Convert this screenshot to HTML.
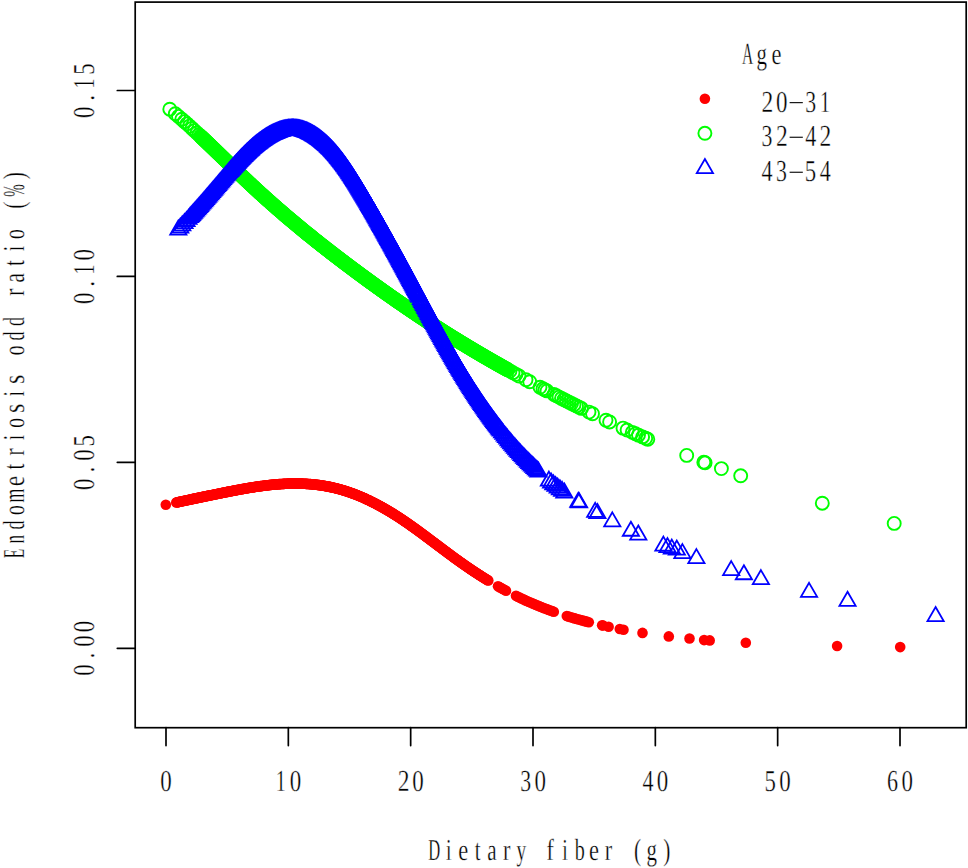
<!DOCTYPE html>
<html><head><meta charset="utf-8"><style>
html,body{margin:0;padding:0;background:#fff;}
svg{display:block;}
text{font-family:"Liberation Serif",serif;text-rendering:geometricPrecision;}
</style></head><body>
<svg width="968" height="868" viewBox="0 0 968 868">
<rect width="968" height="868" fill="#fff"/>
<g fill="#ff0000"><circle cx="165.80" cy="504.69" r="5.3"/><circle cx="176.30" cy="502.46" r="5.3"/><circle cx="176.90" cy="502.34" r="5.3"/><circle cx="177.50" cy="502.21" r="5.3"/><circle cx="178.10" cy="502.08" r="5.3"/><circle cx="178.70" cy="501.96" r="5.3"/><circle cx="179.30" cy="501.83" r="5.3"/><circle cx="179.90" cy="501.70" r="5.3"/><circle cx="180.50" cy="501.57" r="5.3"/><circle cx="181.10" cy="501.45" r="5.3"/><circle cx="181.70" cy="501.32" r="5.3"/><circle cx="182.30" cy="501.19" r="5.3"/><circle cx="182.90" cy="501.07" r="5.3"/><circle cx="183.50" cy="500.94" r="5.3"/><circle cx="184.10" cy="500.81" r="5.3"/><circle cx="184.70" cy="500.69" r="5.3"/><circle cx="185.30" cy="500.56" r="5.3"/><circle cx="185.90" cy="500.43" r="5.3"/><circle cx="186.50" cy="500.31" r="5.3"/><circle cx="187.10" cy="500.18" r="5.3"/><circle cx="187.70" cy="500.05" r="5.3"/><circle cx="188.30" cy="499.93" r="5.3"/><circle cx="188.90" cy="499.80" r="5.3"/><circle cx="189.50" cy="499.68" r="5.3"/><circle cx="190.10" cy="499.55" r="5.3"/><circle cx="190.70" cy="499.42" r="5.3"/><circle cx="191.30" cy="499.30" r="5.3"/><circle cx="191.90" cy="499.17" r="5.3"/><circle cx="192.50" cy="499.04" r="5.3"/><circle cx="193.10" cy="498.92" r="5.3"/><circle cx="193.70" cy="498.79" r="5.3"/><circle cx="194.30" cy="498.67" r="5.3"/><circle cx="194.90" cy="498.54" r="5.3"/><circle cx="195.50" cy="498.42" r="5.3"/><circle cx="196.10" cy="498.29" r="5.3"/><circle cx="196.70" cy="498.16" r="5.3"/><circle cx="197.30" cy="498.04" r="5.3"/><circle cx="197.90" cy="497.91" r="5.3"/><circle cx="198.50" cy="497.79" r="5.3"/><circle cx="199.10" cy="497.66" r="5.3"/><circle cx="199.70" cy="497.54" r="5.3"/><circle cx="200.30" cy="497.41" r="5.3"/><circle cx="200.90" cy="497.29" r="5.3"/><circle cx="201.50" cy="497.16" r="5.3"/><circle cx="202.10" cy="497.04" r="5.3"/><circle cx="202.70" cy="496.91" r="5.3"/><circle cx="203.30" cy="496.79" r="5.3"/><circle cx="203.90" cy="496.66" r="5.3"/><circle cx="204.50" cy="496.54" r="5.3"/><circle cx="205.10" cy="496.42" r="5.3"/><circle cx="205.70" cy="496.29" r="5.3"/><circle cx="206.30" cy="496.17" r="5.3"/><circle cx="206.90" cy="496.04" r="5.3"/><circle cx="207.50" cy="495.92" r="5.3"/><circle cx="208.10" cy="495.79" r="5.3"/><circle cx="208.70" cy="495.67" r="5.3"/><circle cx="209.30" cy="495.55" r="5.3"/><circle cx="209.90" cy="495.42" r="5.3"/><circle cx="210.50" cy="495.30" r="5.3"/><circle cx="211.10" cy="495.18" r="5.3"/><circle cx="211.70" cy="495.05" r="5.3"/><circle cx="212.30" cy="494.93" r="5.3"/><circle cx="212.90" cy="494.81" r="5.3"/><circle cx="213.50" cy="494.68" r="5.3"/><circle cx="214.10" cy="494.56" r="5.3"/><circle cx="214.70" cy="494.44" r="5.3"/><circle cx="215.30" cy="494.32" r="5.3"/><circle cx="215.90" cy="494.19" r="5.3"/><circle cx="216.50" cy="494.07" r="5.3"/><circle cx="217.10" cy="493.95" r="5.3"/><circle cx="217.70" cy="493.83" r="5.3"/><circle cx="218.30" cy="493.70" r="5.3"/><circle cx="218.90" cy="493.58" r="5.3"/><circle cx="219.50" cy="493.46" r="5.3"/><circle cx="220.10" cy="493.34" r="5.3"/><circle cx="220.70" cy="493.22" r="5.3"/><circle cx="221.30" cy="493.10" r="5.3"/><circle cx="221.90" cy="492.98" r="5.3"/><circle cx="222.50" cy="492.85" r="5.3"/><circle cx="223.10" cy="492.73" r="5.3"/><circle cx="223.70" cy="492.61" r="5.3"/><circle cx="224.30" cy="492.49" r="5.3"/><circle cx="224.90" cy="492.37" r="5.3"/><circle cx="225.50" cy="492.25" r="5.3"/><circle cx="226.10" cy="492.13" r="5.3"/><circle cx="226.70" cy="492.01" r="5.3"/><circle cx="227.30" cy="491.90" r="5.3"/><circle cx="227.90" cy="491.78" r="5.3"/><circle cx="228.50" cy="491.66" r="5.3"/><circle cx="229.10" cy="491.54" r="5.3"/><circle cx="229.70" cy="491.42" r="5.3"/><circle cx="230.30" cy="491.30" r="5.3"/><circle cx="230.90" cy="491.19" r="5.3"/><circle cx="231.50" cy="491.07" r="5.3"/><circle cx="232.10" cy="490.95" r="5.3"/><circle cx="232.70" cy="490.84" r="5.3"/><circle cx="233.30" cy="490.72" r="5.3"/><circle cx="233.90" cy="490.61" r="5.3"/><circle cx="234.50" cy="490.49" r="5.3"/><circle cx="235.10" cy="490.38" r="5.3"/><circle cx="235.70" cy="490.27" r="5.3"/><circle cx="236.30" cy="490.15" r="5.3"/><circle cx="236.90" cy="490.04" r="5.3"/><circle cx="237.50" cy="489.93" r="5.3"/><circle cx="238.10" cy="489.82" r="5.3"/><circle cx="238.70" cy="489.70" r="5.3"/><circle cx="239.30" cy="489.59" r="5.3"/><circle cx="239.90" cy="489.48" r="5.3"/><circle cx="240.50" cy="489.37" r="5.3"/><circle cx="241.10" cy="489.26" r="5.3"/><circle cx="241.70" cy="489.16" r="5.3"/><circle cx="242.30" cy="489.05" r="5.3"/><circle cx="242.90" cy="488.94" r="5.3"/><circle cx="243.50" cy="488.84" r="5.3"/><circle cx="244.10" cy="488.73" r="5.3"/><circle cx="244.70" cy="488.62" r="5.3"/><circle cx="245.30" cy="488.52" r="5.3"/><circle cx="245.90" cy="488.42" r="5.3"/><circle cx="246.50" cy="488.31" r="5.3"/><circle cx="247.10" cy="488.21" r="5.3"/><circle cx="247.70" cy="488.11" r="5.3"/><circle cx="248.30" cy="488.01" r="5.3"/><circle cx="248.90" cy="487.91" r="5.3"/><circle cx="249.50" cy="487.81" r="5.3"/><circle cx="250.10" cy="487.71" r="5.3"/><circle cx="250.70" cy="487.61" r="5.3"/><circle cx="251.30" cy="487.52" r="5.3"/><circle cx="251.90" cy="487.42" r="5.3"/><circle cx="252.50" cy="487.32" r="5.3"/><circle cx="253.10" cy="487.23" r="5.3"/><circle cx="253.70" cy="487.14" r="5.3"/><circle cx="254.30" cy="487.04" r="5.3"/><circle cx="254.90" cy="486.95" r="5.3"/><circle cx="255.50" cy="486.86" r="5.3"/><circle cx="256.10" cy="486.77" r="5.3"/><circle cx="256.70" cy="486.68" r="5.3"/><circle cx="257.30" cy="486.59" r="5.3"/><circle cx="257.90" cy="486.51" r="5.3"/><circle cx="258.50" cy="486.42" r="5.3"/><circle cx="259.10" cy="486.34" r="5.3"/><circle cx="259.70" cy="486.25" r="5.3"/><circle cx="260.30" cy="486.17" r="5.3"/><circle cx="260.90" cy="486.09" r="5.3"/><circle cx="261.50" cy="486.01" r="5.3"/><circle cx="262.10" cy="485.93" r="5.3"/><circle cx="262.70" cy="485.85" r="5.3"/><circle cx="263.30" cy="485.77" r="5.3"/><circle cx="263.90" cy="485.69" r="5.3"/><circle cx="264.50" cy="485.62" r="5.3"/><circle cx="265.10" cy="485.54" r="5.3"/><circle cx="265.70" cy="485.47" r="5.3"/><circle cx="266.30" cy="485.40" r="5.3"/><circle cx="266.90" cy="485.33" r="5.3"/><circle cx="267.50" cy="485.26" r="5.3"/><circle cx="268.10" cy="485.19" r="5.3"/><circle cx="268.70" cy="485.12" r="5.3"/><circle cx="269.30" cy="485.05" r="5.3"/><circle cx="269.90" cy="484.99" r="5.3"/><circle cx="270.50" cy="484.92" r="5.3"/><circle cx="271.10" cy="484.86" r="5.3"/><circle cx="271.70" cy="484.80" r="5.3"/><circle cx="272.30" cy="484.74" r="5.3"/><circle cx="272.90" cy="484.68" r="5.3"/><circle cx="273.50" cy="484.62" r="5.3"/><circle cx="274.10" cy="484.57" r="5.3"/><circle cx="274.70" cy="484.51" r="5.3"/><circle cx="275.30" cy="484.46" r="5.3"/><circle cx="275.90" cy="484.41" r="5.3"/><circle cx="276.50" cy="484.36" r="5.3"/><circle cx="277.10" cy="484.31" r="5.3"/><circle cx="277.70" cy="484.26" r="5.3"/><circle cx="278.30" cy="484.21" r="5.3"/><circle cx="278.90" cy="484.17" r="5.3"/><circle cx="279.50" cy="484.12" r="5.3"/><circle cx="280.10" cy="484.08" r="5.3"/><circle cx="280.70" cy="484.04" r="5.3"/><circle cx="281.30" cy="484.00" r="5.3"/><circle cx="281.90" cy="483.96" r="5.3"/><circle cx="282.50" cy="483.93" r="5.3"/><circle cx="283.10" cy="483.89" r="5.3"/><circle cx="283.70" cy="483.86" r="5.3"/><circle cx="284.30" cy="483.83" r="5.3"/><circle cx="284.90" cy="483.80" r="5.3"/><circle cx="285.50" cy="483.77" r="5.3"/><circle cx="286.10" cy="483.74" r="5.3"/><circle cx="286.70" cy="483.72" r="5.3"/><circle cx="287.30" cy="483.69" r="5.3"/><circle cx="287.90" cy="483.67" r="5.3"/><circle cx="288.50" cy="483.65" r="5.3"/><circle cx="289.10" cy="483.63" r="5.3"/><circle cx="289.70" cy="483.62" r="5.3"/><circle cx="290.30" cy="483.60" r="5.3"/><circle cx="290.90" cy="483.59" r="5.3"/><circle cx="291.50" cy="483.57" r="5.3"/><circle cx="292.10" cy="483.56" r="5.3"/><circle cx="292.70" cy="483.56" r="5.3"/><circle cx="293.30" cy="483.55" r="5.3"/><circle cx="293.90" cy="483.54" r="5.3"/><circle cx="294.50" cy="483.54" r="5.3"/><circle cx="295.10" cy="483.54" r="5.3"/><circle cx="295.70" cy="483.54" r="5.3"/><circle cx="296.30" cy="483.54" r="5.3"/><circle cx="296.90" cy="483.54" r="5.3"/><circle cx="297.50" cy="483.55" r="5.3"/><circle cx="298.10" cy="483.56" r="5.3"/><circle cx="298.70" cy="483.57" r="5.3"/><circle cx="299.30" cy="483.58" r="5.3"/><circle cx="299.90" cy="483.59" r="5.3"/><circle cx="300.50" cy="483.61" r="5.3"/><circle cx="301.10" cy="483.62" r="5.3"/><circle cx="301.70" cy="483.64" r="5.3"/><circle cx="302.30" cy="483.66" r="5.3"/><circle cx="302.90" cy="483.68" r="5.3"/><circle cx="303.50" cy="483.71" r="5.3"/><circle cx="304.10" cy="483.74" r="5.3"/><circle cx="304.70" cy="483.76" r="5.3"/><circle cx="305.30" cy="483.79" r="5.3"/><circle cx="305.90" cy="483.83" r="5.3"/><circle cx="306.50" cy="483.86" r="5.3"/><circle cx="307.10" cy="483.90" r="5.3"/><circle cx="307.70" cy="483.94" r="5.3"/><circle cx="308.30" cy="483.98" r="5.3"/><circle cx="308.90" cy="484.02" r="5.3"/><circle cx="309.50" cy="484.06" r="5.3"/><circle cx="310.10" cy="484.11" r="5.3"/><circle cx="310.70" cy="484.16" r="5.3"/><circle cx="311.30" cy="484.21" r="5.3"/><circle cx="311.90" cy="484.26" r="5.3"/><circle cx="312.50" cy="484.32" r="5.3"/><circle cx="313.10" cy="484.38" r="5.3"/><circle cx="313.70" cy="484.43" r="5.3"/><circle cx="314.30" cy="484.50" r="5.3"/><circle cx="314.90" cy="484.56" r="5.3"/><circle cx="315.50" cy="484.63" r="5.3"/><circle cx="316.10" cy="484.69" r="5.3"/><circle cx="316.70" cy="484.76" r="5.3"/><circle cx="317.30" cy="484.84" r="5.3"/><circle cx="317.90" cy="484.91" r="5.3"/><circle cx="318.50" cy="484.99" r="5.3"/><circle cx="319.10" cy="485.07" r="5.3"/><circle cx="319.70" cy="485.15" r="5.3"/><circle cx="320.30" cy="485.23" r="5.3"/><circle cx="320.90" cy="485.32" r="5.3"/><circle cx="321.50" cy="485.41" r="5.3"/><circle cx="322.10" cy="485.50" r="5.3"/><circle cx="322.70" cy="485.59" r="5.3"/><circle cx="323.30" cy="485.69" r="5.3"/><circle cx="323.90" cy="485.78" r="5.3"/><circle cx="324.50" cy="485.88" r="5.3"/><circle cx="325.10" cy="485.99" r="5.3"/><circle cx="325.70" cy="486.09" r="5.3"/><circle cx="326.30" cy="486.20" r="5.3"/><circle cx="326.90" cy="486.31" r="5.3"/><circle cx="327.50" cy="486.42" r="5.3"/><circle cx="328.10" cy="486.54" r="5.3"/><circle cx="328.70" cy="486.65" r="5.3"/><circle cx="329.30" cy="486.77" r="5.3"/><circle cx="329.90" cy="486.89" r="5.3"/><circle cx="330.50" cy="487.02" r="5.3"/><circle cx="331.10" cy="487.14" r="5.3"/><circle cx="331.70" cy="487.27" r="5.3"/><circle cx="332.30" cy="487.41" r="5.3"/><circle cx="332.90" cy="487.54" r="5.3"/><circle cx="333.50" cy="487.68" r="5.3"/><circle cx="334.10" cy="487.82" r="5.3"/><circle cx="334.70" cy="487.96" r="5.3"/><circle cx="335.30" cy="488.10" r="5.3"/><circle cx="335.90" cy="488.25" r="5.3"/><circle cx="336.50" cy="488.40" r="5.3"/><circle cx="337.10" cy="488.55" r="5.3"/><circle cx="337.70" cy="488.71" r="5.3"/><circle cx="338.30" cy="488.87" r="5.3"/><circle cx="338.90" cy="489.03" r="5.3"/><circle cx="339.50" cy="489.19" r="5.3"/><circle cx="340.10" cy="489.36" r="5.3"/><circle cx="340.70" cy="489.52" r="5.3"/><circle cx="341.30" cy="489.70" r="5.3"/><circle cx="341.90" cy="489.87" r="5.3"/><circle cx="342.50" cy="490.05" r="5.3"/><circle cx="343.10" cy="490.22" r="5.3"/><circle cx="343.70" cy="490.41" r="5.3"/><circle cx="344.30" cy="490.59" r="5.3"/><circle cx="344.90" cy="490.78" r="5.3"/><circle cx="345.50" cy="490.97" r="5.3"/><circle cx="346.10" cy="491.16" r="5.3"/><circle cx="346.70" cy="491.35" r="5.3"/><circle cx="347.30" cy="491.55" r="5.3"/><circle cx="347.90" cy="491.75" r="5.3"/><circle cx="348.50" cy="491.95" r="5.3"/><circle cx="349.10" cy="492.16" r="5.3"/><circle cx="349.70" cy="492.37" r="5.3"/><circle cx="350.30" cy="492.58" r="5.3"/><circle cx="350.90" cy="492.79" r="5.3"/><circle cx="351.50" cy="493.01" r="5.3"/><circle cx="352.10" cy="493.22" r="5.3"/><circle cx="352.70" cy="493.44" r="5.3"/><circle cx="353.30" cy="493.67" r="5.3"/><circle cx="353.90" cy="493.89" r="5.3"/><circle cx="354.50" cy="494.12" r="5.3"/><circle cx="355.10" cy="494.35" r="5.3"/><circle cx="355.70" cy="494.58" r="5.3"/><circle cx="356.30" cy="494.82" r="5.3"/><circle cx="356.90" cy="495.06" r="5.3"/><circle cx="357.50" cy="495.30" r="5.3"/><circle cx="358.10" cy="495.54" r="5.3"/><circle cx="358.70" cy="495.79" r="5.3"/><circle cx="359.30" cy="496.03" r="5.3"/><circle cx="359.90" cy="496.28" r="5.3"/><circle cx="360.50" cy="496.54" r="5.3"/><circle cx="361.10" cy="496.79" r="5.3"/><circle cx="361.70" cy="497.05" r="5.3"/><circle cx="362.30" cy="497.31" r="5.3"/><circle cx="362.90" cy="497.57" r="5.3"/><circle cx="363.50" cy="497.84" r="5.3"/><circle cx="364.10" cy="498.10" r="5.3"/><circle cx="364.70" cy="498.37" r="5.3"/><circle cx="365.30" cy="498.64" r="5.3"/><circle cx="365.90" cy="498.92" r="5.3"/><circle cx="366.50" cy="499.19" r="5.3"/><circle cx="367.10" cy="499.47" r="5.3"/><circle cx="367.70" cy="499.75" r="5.3"/><circle cx="368.30" cy="500.04" r="5.3"/><circle cx="368.90" cy="500.32" r="5.3"/><circle cx="369.50" cy="500.61" r="5.3"/><circle cx="370.10" cy="500.90" r="5.3"/><circle cx="370.70" cy="501.19" r="5.3"/><circle cx="371.30" cy="501.49" r="5.3"/><circle cx="371.90" cy="501.78" r="5.3"/><circle cx="372.50" cy="502.08" r="5.3"/><circle cx="373.10" cy="502.39" r="5.3"/><circle cx="373.70" cy="502.69" r="5.3"/><circle cx="374.30" cy="502.99" r="5.3"/><circle cx="374.90" cy="503.30" r="5.3"/><circle cx="375.50" cy="503.61" r="5.3"/><circle cx="376.10" cy="503.93" r="5.3"/><circle cx="376.70" cy="504.24" r="5.3"/><circle cx="377.30" cy="504.56" r="5.3"/><circle cx="377.90" cy="504.88" r="5.3"/><circle cx="378.50" cy="505.20" r="5.3"/><circle cx="379.10" cy="505.52" r="5.3"/><circle cx="379.70" cy="505.85" r="5.3"/><circle cx="380.30" cy="506.18" r="5.3"/><circle cx="380.90" cy="506.51" r="5.3"/><circle cx="381.50" cy="506.84" r="5.3"/><circle cx="382.10" cy="507.17" r="5.3"/><circle cx="382.70" cy="507.51" r="5.3"/><circle cx="383.30" cy="507.85" r="5.3"/><circle cx="383.90" cy="508.19" r="5.3"/><circle cx="384.50" cy="508.53" r="5.3"/><circle cx="385.10" cy="508.88" r="5.3"/><circle cx="385.70" cy="509.22" r="5.3"/><circle cx="386.30" cy="509.57" r="5.3"/><circle cx="386.90" cy="509.92" r="5.3"/><circle cx="387.50" cy="510.28" r="5.3"/><circle cx="388.10" cy="510.63" r="5.3"/><circle cx="388.70" cy="510.99" r="5.3"/><circle cx="389.30" cy="511.35" r="5.3"/><circle cx="389.90" cy="511.71" r="5.3"/><circle cx="390.50" cy="512.07" r="5.3"/><circle cx="391.10" cy="512.44" r="5.3"/><circle cx="391.70" cy="512.81" r="5.3"/><circle cx="392.30" cy="513.18" r="5.3"/><circle cx="392.90" cy="513.55" r="5.3"/><circle cx="393.50" cy="513.92" r="5.3"/><circle cx="394.10" cy="514.30" r="5.3"/><circle cx="394.70" cy="514.67" r="5.3"/><circle cx="395.30" cy="515.05" r="5.3"/><circle cx="395.90" cy="515.43" r="5.3"/><circle cx="396.50" cy="515.82" r="5.3"/><circle cx="397.10" cy="516.20" r="5.3"/><circle cx="397.70" cy="516.59" r="5.3"/><circle cx="398.30" cy="516.98" r="5.3"/><circle cx="398.90" cy="517.37" r="5.3"/><circle cx="399.50" cy="517.76" r="5.3"/><circle cx="400.10" cy="518.16" r="5.3"/><circle cx="400.70" cy="518.55" r="5.3"/><circle cx="401.30" cy="518.95" r="5.3"/><circle cx="401.90" cy="519.35" r="5.3"/><circle cx="402.50" cy="519.75" r="5.3"/><circle cx="403.10" cy="520.16" r="5.3"/><circle cx="403.70" cy="520.56" r="5.3"/><circle cx="404.30" cy="520.97" r="5.3"/><circle cx="404.90" cy="521.38" r="5.3"/><circle cx="405.50" cy="521.79" r="5.3"/><circle cx="406.10" cy="522.20" r="5.3"/><circle cx="406.70" cy="522.62" r="5.3"/><circle cx="407.30" cy="523.03" r="5.3"/><circle cx="407.90" cy="523.45" r="5.3"/><circle cx="408.50" cy="523.87" r="5.3"/><circle cx="409.10" cy="524.28" r="5.3"/><circle cx="409.70" cy="524.71" r="5.3"/><circle cx="410.30" cy="525.13" r="5.3"/><circle cx="410.90" cy="525.55" r="5.3"/><circle cx="411.50" cy="525.98" r="5.3"/><circle cx="412.10" cy="526.40" r="5.3"/><circle cx="412.70" cy="526.83" r="5.3"/><circle cx="413.30" cy="527.26" r="5.3"/><circle cx="413.90" cy="527.69" r="5.3"/><circle cx="414.50" cy="528.12" r="5.3"/><circle cx="415.10" cy="528.55" r="5.3"/><circle cx="415.70" cy="528.99" r="5.3"/><circle cx="416.30" cy="529.42" r="5.3"/><circle cx="416.90" cy="529.86" r="5.3"/><circle cx="417.50" cy="530.29" r="5.3"/><circle cx="418.10" cy="530.73" r="5.3"/><circle cx="418.70" cy="531.17" r="5.3"/><circle cx="419.30" cy="531.61" r="5.3"/><circle cx="419.90" cy="532.05" r="5.3"/><circle cx="420.50" cy="532.49" r="5.3"/><circle cx="421.10" cy="532.93" r="5.3"/><circle cx="421.70" cy="533.37" r="5.3"/><circle cx="422.30" cy="533.82" r="5.3"/><circle cx="422.90" cy="534.26" r="5.3"/><circle cx="423.50" cy="534.71" r="5.3"/><circle cx="424.10" cy="535.15" r="5.3"/><circle cx="424.70" cy="535.60" r="5.3"/><circle cx="425.30" cy="536.04" r="5.3"/><circle cx="425.90" cy="536.49" r="5.3"/><circle cx="426.50" cy="536.94" r="5.3"/><circle cx="427.10" cy="537.39" r="5.3"/><circle cx="427.70" cy="537.84" r="5.3"/><circle cx="428.30" cy="538.28" r="5.3"/><circle cx="428.90" cy="538.73" r="5.3"/><circle cx="429.50" cy="539.18" r="5.3"/><circle cx="430.10" cy="539.63" r="5.3"/><circle cx="430.70" cy="540.09" r="5.3"/><circle cx="431.30" cy="540.54" r="5.3"/><circle cx="431.90" cy="540.99" r="5.3"/><circle cx="432.50" cy="541.44" r="5.3"/><circle cx="433.10" cy="541.89" r="5.3"/><circle cx="433.70" cy="542.34" r="5.3"/><circle cx="434.30" cy="542.79" r="5.3"/><circle cx="434.90" cy="543.25" r="5.3"/><circle cx="435.50" cy="543.70" r="5.3"/><circle cx="436.10" cy="544.15" r="5.3"/><circle cx="436.70" cy="544.60" r="5.3"/><circle cx="437.30" cy="545.05" r="5.3"/><circle cx="437.90" cy="545.51" r="5.3"/><circle cx="438.50" cy="545.96" r="5.3"/><circle cx="439.10" cy="546.41" r="5.3"/><circle cx="439.70" cy="546.86" r="5.3"/><circle cx="440.30" cy="547.31" r="5.3"/><circle cx="440.90" cy="547.76" r="5.3"/><circle cx="441.50" cy="548.21" r="5.3"/><circle cx="442.10" cy="548.67" r="5.3"/><circle cx="442.70" cy="549.12" r="5.3"/><circle cx="443.30" cy="549.57" r="5.3"/><circle cx="443.90" cy="550.01" r="5.3"/><circle cx="444.50" cy="550.46" r="5.3"/><circle cx="445.10" cy="550.91" r="5.3"/><circle cx="445.70" cy="551.36" r="5.3"/><circle cx="446.30" cy="551.81" r="5.3"/><circle cx="446.90" cy="552.26" r="5.3"/><circle cx="447.50" cy="552.70" r="5.3"/><circle cx="448.10" cy="553.15" r="5.3"/><circle cx="448.70" cy="553.59" r="5.3"/><circle cx="449.30" cy="554.04" r="5.3"/><circle cx="449.90" cy="554.48" r="5.3"/><circle cx="450.50" cy="554.93" r="5.3"/><circle cx="451.10" cy="555.37" r="5.3"/><circle cx="451.70" cy="555.81" r="5.3"/><circle cx="452.30" cy="556.25" r="5.3"/><circle cx="452.90" cy="556.69" r="5.3"/><circle cx="453.50" cy="557.13" r="5.3"/><circle cx="454.10" cy="557.57" r="5.3"/><circle cx="454.70" cy="558.01" r="5.3"/><circle cx="455.30" cy="558.44" r="5.3"/><circle cx="455.90" cy="558.88" r="5.3"/><circle cx="456.50" cy="559.31" r="5.3"/><circle cx="457.10" cy="559.75" r="5.3"/><circle cx="457.70" cy="560.18" r="5.3"/><circle cx="458.30" cy="560.61" r="5.3"/><circle cx="458.90" cy="561.04" r="5.3"/><circle cx="459.50" cy="561.47" r="5.3"/><circle cx="460.10" cy="561.90" r="5.3"/><circle cx="460.70" cy="562.32" r="5.3"/><circle cx="461.30" cy="562.75" r="5.3"/><circle cx="461.90" cy="563.17" r="5.3"/><circle cx="462.50" cy="563.59" r="5.3"/><circle cx="463.10" cy="564.02" r="5.3"/><circle cx="463.70" cy="564.44" r="5.3"/><circle cx="464.30" cy="564.85" r="5.3"/><circle cx="464.90" cy="565.27" r="5.3"/><circle cx="465.50" cy="565.69" r="5.3"/><circle cx="466.10" cy="566.10" r="5.3"/><circle cx="466.70" cy="566.52" r="5.3"/><circle cx="467.30" cy="566.93" r="5.3"/><circle cx="467.90" cy="567.34" r="5.3"/><circle cx="468.50" cy="567.75" r="5.3"/><circle cx="469.10" cy="568.16" r="5.3"/><circle cx="469.70" cy="568.57" r="5.3"/><circle cx="470.30" cy="568.97" r="5.3"/><circle cx="470.90" cy="569.38" r="5.3"/><circle cx="471.50" cy="569.78" r="5.3"/><circle cx="472.10" cy="570.18" r="5.3"/><circle cx="472.70" cy="570.58" r="5.3"/><circle cx="473.30" cy="570.98" r="5.3"/><circle cx="473.90" cy="571.38" r="5.3"/><circle cx="474.50" cy="571.78" r="5.3"/><circle cx="475.10" cy="572.17" r="5.3"/><circle cx="475.70" cy="572.57" r="5.3"/><circle cx="476.30" cy="572.96" r="5.3"/><circle cx="476.90" cy="573.35" r="5.3"/><circle cx="477.50" cy="573.74" r="5.3"/><circle cx="478.10" cy="574.13" r="5.3"/><circle cx="478.70" cy="574.52" r="5.3"/><circle cx="479.30" cy="574.90" r="5.3"/><circle cx="479.90" cy="575.29" r="5.3"/><circle cx="480.50" cy="575.67" r="5.3"/><circle cx="481.10" cy="576.05" r="5.3"/><circle cx="481.70" cy="576.43" r="5.3"/><circle cx="482.30" cy="576.81" r="5.3"/><circle cx="482.90" cy="577.19" r="5.3"/><circle cx="483.50" cy="577.57" r="5.3"/><circle cx="484.10" cy="577.94" r="5.3"/><circle cx="484.70" cy="578.32" r="5.3"/><circle cx="485.30" cy="578.69" r="5.3"/><circle cx="485.90" cy="579.06" r="5.3"/><circle cx="486.50" cy="579.43" r="5.3"/><circle cx="487.10" cy="579.80" r="5.3"/><circle cx="487.70" cy="580.17" r="5.3"/><circle cx="488.30" cy="580.53" r="5.3"/><circle cx="498.00" cy="586.25" r="5.3"/><circle cx="499.60" cy="587.16" r="5.3"/><circle cx="501.20" cy="588.05" r="5.3"/><circle cx="502.80" cy="588.94" r="5.3"/><circle cx="504.40" cy="589.82" r="5.3"/><circle cx="506.00" cy="590.68" r="5.3"/><circle cx="516.00" cy="595.85" r="5.3"/><circle cx="517.80" cy="596.74" r="5.3"/><circle cx="519.60" cy="597.61" r="5.3"/><circle cx="521.40" cy="598.47" r="5.3"/><circle cx="523.20" cy="599.32" r="5.3"/><circle cx="525.00" cy="600.15" r="5.3"/><circle cx="526.80" cy="600.97" r="5.3"/><circle cx="528.60" cy="601.77" r="5.3"/><circle cx="530.40" cy="602.56" r="5.3"/><circle cx="532.20" cy="603.34" r="5.3"/><circle cx="534.00" cy="604.11" r="5.3"/><circle cx="535.80" cy="604.86" r="5.3"/><circle cx="537.60" cy="605.60" r="5.3"/><circle cx="539.40" cy="606.33" r="5.3"/><circle cx="541.20" cy="607.05" r="5.3"/><circle cx="543.00" cy="607.75" r="5.3"/><circle cx="544.80" cy="608.44" r="5.3"/><circle cx="546.60" cy="609.12" r="5.3"/><circle cx="548.40" cy="609.79" r="5.3"/><circle cx="550.20" cy="610.45" r="5.3"/><circle cx="552.00" cy="611.10" r="5.3"/><circle cx="553.80" cy="611.74" r="5.3"/><circle cx="566.80" cy="616.02" r="5.3"/><circle cx="568.80" cy="616.64" r="5.3"/><circle cx="570.80" cy="617.24" r="5.3"/><circle cx="572.80" cy="617.83" r="5.3"/><circle cx="574.80" cy="618.41" r="5.3"/><circle cx="576.80" cy="618.98" r="5.3"/><circle cx="578.80" cy="619.54" r="5.3"/><circle cx="580.80" cy="620.08" r="5.3"/><circle cx="582.80" cy="620.62" r="5.3"/><circle cx="584.80" cy="621.15" r="5.3"/><circle cx="586.80" cy="621.67" r="5.3"/><circle cx="588.80" cy="622.18" r="5.3"/><circle cx="602.10" cy="625.33" r="5.3"/><circle cx="603.10" cy="625.55" r="5.3"/><circle cx="608.60" cy="626.74" r="5.3"/><circle cx="619.80" cy="628.98" r="5.3"/><circle cx="623.50" cy="629.68" r="5.3"/><circle cx="642.50" cy="632.90" r="5.3"/><circle cx="668.80" cy="636.40" r="5.3"/><circle cx="689.50" cy="638.50" r="5.3"/><circle cx="704.10" cy="640.10" r="5.3"/><circle cx="709.70" cy="640.40" r="5.3"/><circle cx="745.80" cy="642.70" r="5.3"/><circle cx="837.10" cy="646.00" r="5.3"/><circle cx="900.20" cy="647.10" r="5.3"/></g>
<g fill="none" stroke="#00ff00" stroke-width="1.9"><circle cx="169.80" cy="109.19" r="6.5"/><circle cx="175.30" cy="113.71" r="6.5"/><circle cx="178.50" cy="116.42" r="6.5"/><circle cx="181.80" cy="119.26" r="6.5"/><circle cx="184.50" cy="121.63" r="6.5"/><circle cx="187.00" cy="123.85" r="6.5"/><circle cx="189.50" cy="126.09" r="6.5"/><circle cx="192.00" cy="128.36" r="6.5"/><circle cx="194.50" cy="130.65" r="6.5"/><circle cx="197.00" cy="132.96" r="6.5"/><circle cx="199.00" cy="134.83" r="6.5"/><circle cx="200.50" cy="136.23" r="6.5"/><circle cx="201.10" cy="136.79" r="6.5"/><circle cx="201.70" cy="137.36" r="6.5"/><circle cx="202.30" cy="137.92" r="6.5"/><circle cx="202.90" cy="138.49" r="6.5"/><circle cx="203.50" cy="139.05" r="6.5"/><circle cx="204.10" cy="139.62" r="6.5"/><circle cx="204.70" cy="140.19" r="6.5"/><circle cx="205.30" cy="140.76" r="6.5"/><circle cx="205.90" cy="141.33" r="6.5"/><circle cx="206.50" cy="141.90" r="6.5"/><circle cx="207.10" cy="142.47" r="6.5"/><circle cx="207.70" cy="143.05" r="6.5"/><circle cx="208.30" cy="143.62" r="6.5"/><circle cx="208.90" cy="144.19" r="6.5"/><circle cx="209.50" cy="144.77" r="6.5"/><circle cx="210.10" cy="145.34" r="6.5"/><circle cx="210.70" cy="145.92" r="6.5"/><circle cx="211.30" cy="146.49" r="6.5"/><circle cx="211.90" cy="147.07" r="6.5"/><circle cx="212.50" cy="147.65" r="6.5"/><circle cx="213.10" cy="148.22" r="6.5"/><circle cx="213.70" cy="148.80" r="6.5"/><circle cx="214.30" cy="149.38" r="6.5"/><circle cx="214.90" cy="149.96" r="6.5"/><circle cx="215.50" cy="150.54" r="6.5"/><circle cx="216.10" cy="151.12" r="6.5"/><circle cx="216.70" cy="151.70" r="6.5"/><circle cx="217.30" cy="152.28" r="6.5"/><circle cx="217.90" cy="152.86" r="6.5"/><circle cx="218.50" cy="153.44" r="6.5"/><circle cx="219.10" cy="154.02" r="6.5"/><circle cx="219.70" cy="154.60" r="6.5"/><circle cx="220.30" cy="155.18" r="6.5"/><circle cx="220.90" cy="155.76" r="6.5"/><circle cx="221.50" cy="156.35" r="6.5"/><circle cx="222.10" cy="156.93" r="6.5"/><circle cx="222.70" cy="157.51" r="6.5"/><circle cx="223.30" cy="158.09" r="6.5"/><circle cx="223.90" cy="158.68" r="6.5"/><circle cx="224.50" cy="159.26" r="6.5"/><circle cx="225.10" cy="159.84" r="6.5"/><circle cx="225.70" cy="160.42" r="6.5"/><circle cx="226.30" cy="161.01" r="6.5"/><circle cx="226.90" cy="161.59" r="6.5"/><circle cx="227.50" cy="162.17" r="6.5"/><circle cx="228.10" cy="162.75" r="6.5"/><circle cx="228.70" cy="163.33" r="6.5"/><circle cx="229.30" cy="163.92" r="6.5"/><circle cx="229.90" cy="164.50" r="6.5"/><circle cx="230.50" cy="165.08" r="6.5"/><circle cx="231.10" cy="165.66" r="6.5"/><circle cx="231.70" cy="166.24" r="6.5"/><circle cx="232.30" cy="166.82" r="6.5"/><circle cx="232.90" cy="167.40" r="6.5"/><circle cx="233.50" cy="167.99" r="6.5"/><circle cx="234.10" cy="168.57" r="6.5"/><circle cx="234.70" cy="169.15" r="6.5"/><circle cx="235.30" cy="169.72" r="6.5"/><circle cx="235.90" cy="170.30" r="6.5"/><circle cx="236.50" cy="170.88" r="6.5"/><circle cx="237.10" cy="171.46" r="6.5"/><circle cx="237.70" cy="172.04" r="6.5"/><circle cx="238.30" cy="172.62" r="6.5"/><circle cx="238.90" cy="173.19" r="6.5"/><circle cx="239.50" cy="173.77" r="6.5"/><circle cx="240.10" cy="174.34" r="6.5"/><circle cx="240.70" cy="174.92" r="6.5"/><circle cx="241.30" cy="175.49" r="6.5"/><circle cx="241.90" cy="176.07" r="6.5"/><circle cx="242.50" cy="176.64" r="6.5"/><circle cx="243.10" cy="177.21" r="6.5"/><circle cx="243.70" cy="177.79" r="6.5"/><circle cx="244.30" cy="178.36" r="6.5"/><circle cx="244.90" cy="178.93" r="6.5"/><circle cx="245.50" cy="179.50" r="6.5"/><circle cx="246.10" cy="180.07" r="6.5"/><circle cx="246.70" cy="180.63" r="6.5"/><circle cx="247.30" cy="181.20" r="6.5"/><circle cx="247.90" cy="181.77" r="6.5"/><circle cx="248.50" cy="182.33" r="6.5"/><circle cx="249.10" cy="182.90" r="6.5"/><circle cx="249.70" cy="183.46" r="6.5"/><circle cx="250.30" cy="184.03" r="6.5"/><circle cx="250.90" cy="184.59" r="6.5"/><circle cx="251.50" cy="185.15" r="6.5"/><circle cx="252.10" cy="185.71" r="6.5"/><circle cx="252.70" cy="186.27" r="6.5"/><circle cx="253.30" cy="186.83" r="6.5"/><circle cx="253.90" cy="187.38" r="6.5"/><circle cx="254.50" cy="187.94" r="6.5"/><circle cx="255.10" cy="188.50" r="6.5"/><circle cx="255.70" cy="189.05" r="6.5"/><circle cx="256.30" cy="189.60" r="6.5"/><circle cx="256.90" cy="190.16" r="6.5"/><circle cx="257.50" cy="190.71" r="6.5"/><circle cx="258.10" cy="191.26" r="6.5"/><circle cx="258.70" cy="191.81" r="6.5"/><circle cx="259.30" cy="192.36" r="6.5"/><circle cx="259.90" cy="192.91" r="6.5"/><circle cx="260.50" cy="193.45" r="6.5"/><circle cx="261.10" cy="194.00" r="6.5"/><circle cx="261.70" cy="194.54" r="6.5"/><circle cx="262.30" cy="195.09" r="6.5"/><circle cx="262.90" cy="195.63" r="6.5"/><circle cx="263.50" cy="196.18" r="6.5"/><circle cx="264.10" cy="196.72" r="6.5"/><circle cx="264.70" cy="197.26" r="6.5"/><circle cx="265.30" cy="197.80" r="6.5"/><circle cx="265.90" cy="198.34" r="6.5"/><circle cx="266.50" cy="198.88" r="6.5"/><circle cx="267.10" cy="199.41" r="6.5"/><circle cx="267.70" cy="199.95" r="6.5"/><circle cx="268.30" cy="200.49" r="6.5"/><circle cx="268.90" cy="201.02" r="6.5"/><circle cx="269.50" cy="201.56" r="6.5"/><circle cx="270.10" cy="202.09" r="6.5"/><circle cx="270.70" cy="202.62" r="6.5"/><circle cx="271.30" cy="203.15" r="6.5"/><circle cx="271.90" cy="203.68" r="6.5"/><circle cx="272.50" cy="204.21" r="6.5"/><circle cx="273.10" cy="204.74" r="6.5"/><circle cx="273.70" cy="205.27" r="6.5"/><circle cx="274.30" cy="205.80" r="6.5"/><circle cx="274.90" cy="206.33" r="6.5"/><circle cx="275.50" cy="206.85" r="6.5"/><circle cx="276.10" cy="207.38" r="6.5"/><circle cx="276.70" cy="207.90" r="6.5"/><circle cx="277.30" cy="208.42" r="6.5"/><circle cx="277.90" cy="208.95" r="6.5"/><circle cx="278.50" cy="209.47" r="6.5"/><circle cx="279.10" cy="209.99" r="6.5"/><circle cx="279.70" cy="210.51" r="6.5"/><circle cx="280.30" cy="211.03" r="6.5"/><circle cx="280.90" cy="211.55" r="6.5"/><circle cx="281.50" cy="212.07" r="6.5"/><circle cx="282.10" cy="212.58" r="6.5"/><circle cx="282.70" cy="213.10" r="6.5"/><circle cx="283.30" cy="213.62" r="6.5"/><circle cx="283.90" cy="214.13" r="6.5"/><circle cx="284.50" cy="214.64" r="6.5"/><circle cx="285.10" cy="215.16" r="6.5"/><circle cx="285.70" cy="215.67" r="6.5"/><circle cx="286.30" cy="216.18" r="6.5"/><circle cx="286.90" cy="216.69" r="6.5"/><circle cx="287.50" cy="217.20" r="6.5"/><circle cx="288.10" cy="217.71" r="6.5"/><circle cx="288.70" cy="218.22" r="6.5"/><circle cx="289.30" cy="218.73" r="6.5"/><circle cx="289.90" cy="219.24" r="6.5"/><circle cx="290.50" cy="219.74" r="6.5"/><circle cx="291.10" cy="220.25" r="6.5"/><circle cx="291.70" cy="220.75" r="6.5"/><circle cx="292.30" cy="221.26" r="6.5"/><circle cx="292.90" cy="221.76" r="6.5"/><circle cx="293.50" cy="222.27" r="6.5"/><circle cx="294.10" cy="222.77" r="6.5"/><circle cx="294.70" cy="223.27" r="6.5"/><circle cx="295.30" cy="223.77" r="6.5"/><circle cx="295.90" cy="224.27" r="6.5"/><circle cx="296.50" cy="224.77" r="6.5"/><circle cx="297.10" cy="225.27" r="6.5"/><circle cx="297.70" cy="225.77" r="6.5"/><circle cx="298.30" cy="226.26" r="6.5"/><circle cx="298.90" cy="226.76" r="6.5"/><circle cx="299.50" cy="227.26" r="6.5"/><circle cx="300.10" cy="227.75" r="6.5"/><circle cx="300.70" cy="228.25" r="6.5"/><circle cx="301.30" cy="228.74" r="6.5"/><circle cx="301.90" cy="229.23" r="6.5"/><circle cx="302.50" cy="229.73" r="6.5"/><circle cx="303.10" cy="230.22" r="6.5"/><circle cx="303.70" cy="230.71" r="6.5"/><circle cx="304.30" cy="231.20" r="6.5"/><circle cx="304.90" cy="231.69" r="6.5"/><circle cx="305.50" cy="232.18" r="6.5"/><circle cx="306.10" cy="232.67" r="6.5"/><circle cx="306.70" cy="233.16" r="6.5"/><circle cx="307.30" cy="233.64" r="6.5"/><circle cx="307.90" cy="234.13" r="6.5"/><circle cx="308.50" cy="234.62" r="6.5"/><circle cx="309.10" cy="235.10" r="6.5"/><circle cx="309.70" cy="235.59" r="6.5"/><circle cx="310.30" cy="236.07" r="6.5"/><circle cx="310.90" cy="236.55" r="6.5"/><circle cx="311.50" cy="237.04" r="6.5"/><circle cx="312.10" cy="237.52" r="6.5"/><circle cx="312.70" cy="238.00" r="6.5"/><circle cx="313.30" cy="238.48" r="6.5"/><circle cx="313.90" cy="238.96" r="6.5"/><circle cx="314.50" cy="239.44" r="6.5"/><circle cx="315.10" cy="239.92" r="6.5"/><circle cx="315.70" cy="240.40" r="6.5"/><circle cx="316.30" cy="240.88" r="6.5"/><circle cx="316.90" cy="241.36" r="6.5"/><circle cx="317.50" cy="241.83" r="6.5"/><circle cx="318.10" cy="242.31" r="6.5"/><circle cx="318.70" cy="242.78" r="6.5"/><circle cx="319.30" cy="243.26" r="6.5"/><circle cx="319.90" cy="243.73" r="6.5"/><circle cx="320.50" cy="244.21" r="6.5"/><circle cx="321.10" cy="244.68" r="6.5"/><circle cx="321.70" cy="245.15" r="6.5"/><circle cx="322.30" cy="245.63" r="6.5"/><circle cx="322.90" cy="246.10" r="6.5"/><circle cx="323.50" cy="246.57" r="6.5"/><circle cx="324.10" cy="247.04" r="6.5"/><circle cx="324.70" cy="247.51" r="6.5"/><circle cx="325.30" cy="247.98" r="6.5"/><circle cx="325.90" cy="248.45" r="6.5"/><circle cx="326.50" cy="248.92" r="6.5"/><circle cx="327.10" cy="249.39" r="6.5"/><circle cx="327.70" cy="249.85" r="6.5"/><circle cx="328.30" cy="250.32" r="6.5"/><circle cx="328.90" cy="250.79" r="6.5"/><circle cx="329.50" cy="251.25" r="6.5"/><circle cx="330.10" cy="251.72" r="6.5"/><circle cx="330.70" cy="252.18" r="6.5"/><circle cx="331.30" cy="252.65" r="6.5"/><circle cx="331.90" cy="253.11" r="6.5"/><circle cx="332.50" cy="253.57" r="6.5"/><circle cx="333.10" cy="254.04" r="6.5"/><circle cx="333.70" cy="254.50" r="6.5"/><circle cx="334.30" cy="254.96" r="6.5"/><circle cx="334.90" cy="255.42" r="6.5"/><circle cx="335.50" cy="255.88" r="6.5"/><circle cx="336.10" cy="256.34" r="6.5"/><circle cx="336.70" cy="256.80" r="6.5"/><circle cx="337.30" cy="257.26" r="6.5"/><circle cx="337.90" cy="257.72" r="6.5"/><circle cx="338.50" cy="258.18" r="6.5"/><circle cx="339.10" cy="258.64" r="6.5"/><circle cx="339.70" cy="259.10" r="6.5"/><circle cx="340.30" cy="259.55" r="6.5"/><circle cx="340.90" cy="260.01" r="6.5"/><circle cx="341.50" cy="260.47" r="6.5"/><circle cx="342.10" cy="260.92" r="6.5"/><circle cx="342.70" cy="261.38" r="6.5"/><circle cx="343.30" cy="261.83" r="6.5"/><circle cx="343.90" cy="262.28" r="6.5"/><circle cx="344.50" cy="262.74" r="6.5"/><circle cx="345.10" cy="263.19" r="6.5"/><circle cx="345.70" cy="263.65" r="6.5"/><circle cx="346.30" cy="264.10" r="6.5"/><circle cx="346.90" cy="264.55" r="6.5"/><circle cx="347.50" cy="265.00" r="6.5"/><circle cx="348.10" cy="265.45" r="6.5"/><circle cx="348.70" cy="265.90" r="6.5"/><circle cx="349.30" cy="266.35" r="6.5"/><circle cx="349.90" cy="266.80" r="6.5"/><circle cx="350.50" cy="267.25" r="6.5"/><circle cx="351.10" cy="267.70" r="6.5"/><circle cx="351.70" cy="268.15" r="6.5"/><circle cx="352.30" cy="268.60" r="6.5"/><circle cx="352.90" cy="269.05" r="6.5"/><circle cx="353.50" cy="269.50" r="6.5"/><circle cx="354.10" cy="269.94" r="6.5"/><circle cx="354.70" cy="270.39" r="6.5"/><circle cx="355.30" cy="270.84" r="6.5"/><circle cx="355.90" cy="271.28" r="6.5"/><circle cx="356.50" cy="271.73" r="6.5"/><circle cx="357.10" cy="272.17" r="6.5"/><circle cx="357.70" cy="272.62" r="6.5"/><circle cx="358.30" cy="273.06" r="6.5"/><circle cx="358.90" cy="273.50" r="6.5"/><circle cx="359.50" cy="273.95" r="6.5"/><circle cx="360.10" cy="274.39" r="6.5"/><circle cx="360.70" cy="274.83" r="6.5"/><circle cx="361.30" cy="275.28" r="6.5"/><circle cx="361.90" cy="275.72" r="6.5"/><circle cx="362.50" cy="276.16" r="6.5"/><circle cx="363.10" cy="276.60" r="6.5"/><circle cx="363.70" cy="277.04" r="6.5"/><circle cx="364.30" cy="277.48" r="6.5"/><circle cx="364.90" cy="277.92" r="6.5"/><circle cx="365.50" cy="278.36" r="6.5"/><circle cx="366.10" cy="278.80" r="6.5"/><circle cx="366.70" cy="279.24" r="6.5"/><circle cx="367.30" cy="279.67" r="6.5"/><circle cx="367.90" cy="280.11" r="6.5"/><circle cx="368.50" cy="280.55" r="6.5"/><circle cx="369.10" cy="280.99" r="6.5"/><circle cx="369.70" cy="281.42" r="6.5"/><circle cx="370.30" cy="281.86" r="6.5"/><circle cx="370.90" cy="282.29" r="6.5"/><circle cx="371.50" cy="282.73" r="6.5"/><circle cx="372.10" cy="283.16" r="6.5"/><circle cx="372.70" cy="283.60" r="6.5"/><circle cx="373.30" cy="284.03" r="6.5"/><circle cx="373.90" cy="284.46" r="6.5"/><circle cx="374.50" cy="284.90" r="6.5"/><circle cx="375.10" cy="285.33" r="6.5"/><circle cx="375.70" cy="285.76" r="6.5"/><circle cx="376.30" cy="286.19" r="6.5"/><circle cx="376.90" cy="286.62" r="6.5"/><circle cx="377.50" cy="287.06" r="6.5"/><circle cx="378.10" cy="287.49" r="6.5"/><circle cx="378.70" cy="287.92" r="6.5"/><circle cx="379.30" cy="288.35" r="6.5"/><circle cx="379.90" cy="288.77" r="6.5"/><circle cx="380.50" cy="289.20" r="6.5"/><circle cx="381.10" cy="289.63" r="6.5"/><circle cx="381.70" cy="290.06" r="6.5"/><circle cx="382.30" cy="290.49" r="6.5"/><circle cx="382.90" cy="290.91" r="6.5"/><circle cx="383.50" cy="291.34" r="6.5"/><circle cx="384.10" cy="291.76" r="6.5"/><circle cx="384.70" cy="292.19" r="6.5"/><circle cx="385.30" cy="292.62" r="6.5"/><circle cx="385.90" cy="293.04" r="6.5"/><circle cx="386.50" cy="293.46" r="6.5"/><circle cx="387.10" cy="293.89" r="6.5"/><circle cx="387.70" cy="294.31" r="6.5"/><circle cx="388.30" cy="294.73" r="6.5"/><circle cx="388.90" cy="295.16" r="6.5"/><circle cx="389.50" cy="295.58" r="6.5"/><circle cx="390.10" cy="296.00" r="6.5"/><circle cx="390.70" cy="296.42" r="6.5"/><circle cx="391.30" cy="296.84" r="6.5"/><circle cx="391.90" cy="297.26" r="6.5"/><circle cx="392.50" cy="297.68" r="6.5"/><circle cx="393.10" cy="298.10" r="6.5"/><circle cx="393.70" cy="298.52" r="6.5"/><circle cx="394.30" cy="298.94" r="6.5"/><circle cx="394.90" cy="299.36" r="6.5"/><circle cx="395.50" cy="299.77" r="6.5"/><circle cx="396.10" cy="300.19" r="6.5"/><circle cx="396.70" cy="300.61" r="6.5"/><circle cx="397.30" cy="301.03" r="6.5"/><circle cx="397.90" cy="301.44" r="6.5"/><circle cx="398.50" cy="301.86" r="6.5"/><circle cx="399.10" cy="302.27" r="6.5"/><circle cx="399.70" cy="302.69" r="6.5"/><circle cx="400.30" cy="303.10" r="6.5"/><circle cx="400.90" cy="303.51" r="6.5"/><circle cx="401.50" cy="303.93" r="6.5"/><circle cx="402.10" cy="304.34" r="6.5"/><circle cx="402.70" cy="304.75" r="6.5"/><circle cx="403.30" cy="305.16" r="6.5"/><circle cx="403.90" cy="305.57" r="6.5"/><circle cx="404.50" cy="305.99" r="6.5"/><circle cx="405.10" cy="306.40" r="6.5"/><circle cx="405.70" cy="306.81" r="6.5"/><circle cx="406.30" cy="307.21" r="6.5"/><circle cx="406.90" cy="307.62" r="6.5"/><circle cx="407.50" cy="308.03" r="6.5"/><circle cx="408.10" cy="308.44" r="6.5"/><circle cx="408.70" cy="308.85" r="6.5"/><circle cx="409.30" cy="309.26" r="6.5"/><circle cx="409.90" cy="309.66" r="6.5"/><circle cx="410.50" cy="310.07" r="6.5"/><circle cx="411.10" cy="310.47" r="6.5"/><circle cx="411.70" cy="310.88" r="6.5"/><circle cx="412.30" cy="311.28" r="6.5"/><circle cx="412.90" cy="311.69" r="6.5"/><circle cx="413.50" cy="312.09" r="6.5"/><circle cx="414.10" cy="312.50" r="6.5"/><circle cx="414.70" cy="312.90" r="6.5"/><circle cx="415.30" cy="313.30" r="6.5"/><circle cx="415.90" cy="313.70" r="6.5"/><circle cx="416.50" cy="314.11" r="6.5"/><circle cx="417.10" cy="314.51" r="6.5"/><circle cx="417.70" cy="314.91" r="6.5"/><circle cx="418.30" cy="315.31" r="6.5"/><circle cx="418.90" cy="315.71" r="6.5"/><circle cx="419.50" cy="316.11" r="6.5"/><circle cx="420.10" cy="316.51" r="6.5"/><circle cx="420.70" cy="316.91" r="6.5"/><circle cx="421.30" cy="317.30" r="6.5"/><circle cx="421.90" cy="317.70" r="6.5"/><circle cx="422.50" cy="318.10" r="6.5"/><circle cx="423.10" cy="318.49" r="6.5"/><circle cx="423.70" cy="318.89" r="6.5"/><circle cx="424.30" cy="319.29" r="6.5"/><circle cx="424.90" cy="319.68" r="6.5"/><circle cx="425.50" cy="320.08" r="6.5"/><circle cx="426.10" cy="320.47" r="6.5"/><circle cx="426.70" cy="320.86" r="6.5"/><circle cx="427.30" cy="321.26" r="6.5"/><circle cx="427.90" cy="321.65" r="6.5"/><circle cx="428.50" cy="322.04" r="6.5"/><circle cx="429.10" cy="322.44" r="6.5"/><circle cx="429.70" cy="322.83" r="6.5"/><circle cx="430.30" cy="323.22" r="6.5"/><circle cx="430.90" cy="323.61" r="6.5"/><circle cx="431.50" cy="324.00" r="6.5"/><circle cx="432.10" cy="324.39" r="6.5"/><circle cx="432.70" cy="324.78" r="6.5"/><circle cx="433.30" cy="325.17" r="6.5"/><circle cx="433.90" cy="325.55" r="6.5"/><circle cx="434.50" cy="325.94" r="6.5"/><circle cx="435.10" cy="326.33" r="6.5"/><circle cx="435.70" cy="326.71" r="6.5"/><circle cx="436.30" cy="327.10" r="6.5"/><circle cx="436.90" cy="327.49" r="6.5"/><circle cx="437.50" cy="327.87" r="6.5"/><circle cx="438.10" cy="328.26" r="6.5"/><circle cx="438.70" cy="328.64" r="6.5"/><circle cx="439.30" cy="329.02" r="6.5"/><circle cx="439.90" cy="329.41" r="6.5"/><circle cx="440.50" cy="329.79" r="6.5"/><circle cx="441.10" cy="330.17" r="6.5"/><circle cx="441.70" cy="330.56" r="6.5"/><circle cx="442.30" cy="330.94" r="6.5"/><circle cx="442.90" cy="331.32" r="6.5"/><circle cx="443.50" cy="331.70" r="6.5"/><circle cx="444.10" cy="332.08" r="6.5"/><circle cx="444.70" cy="332.46" r="6.5"/><circle cx="445.30" cy="332.84" r="6.5"/><circle cx="445.90" cy="333.21" r="6.5"/><circle cx="446.50" cy="333.59" r="6.5"/><circle cx="447.10" cy="333.97" r="6.5"/><circle cx="447.70" cy="334.35" r="6.5"/><circle cx="448.30" cy="334.72" r="6.5"/><circle cx="448.90" cy="335.10" r="6.5"/><circle cx="449.50" cy="335.48" r="6.5"/><circle cx="450.10" cy="335.85" r="6.5"/><circle cx="450.70" cy="336.23" r="6.5"/><circle cx="451.30" cy="336.60" r="6.5"/><circle cx="451.90" cy="336.97" r="6.5"/><circle cx="452.50" cy="337.35" r="6.5"/><circle cx="453.10" cy="337.72" r="6.5"/><circle cx="453.70" cy="338.09" r="6.5"/><circle cx="454.30" cy="338.46" r="6.5"/><circle cx="454.90" cy="338.83" r="6.5"/><circle cx="455.50" cy="339.20" r="6.5"/><circle cx="456.10" cy="339.57" r="6.5"/><circle cx="456.70" cy="339.94" r="6.5"/><circle cx="457.30" cy="340.31" r="6.5"/><circle cx="457.90" cy="340.68" r="6.5"/><circle cx="458.50" cy="341.05" r="6.5"/><circle cx="459.10" cy="341.42" r="6.5"/><circle cx="459.70" cy="341.79" r="6.5"/><circle cx="460.30" cy="342.15" r="6.5"/><circle cx="460.90" cy="342.52" r="6.5"/><circle cx="461.50" cy="342.89" r="6.5"/><circle cx="462.10" cy="343.25" r="6.5"/><circle cx="462.70" cy="343.62" r="6.5"/><circle cx="463.30" cy="343.98" r="6.5"/><circle cx="463.90" cy="344.35" r="6.5"/><circle cx="464.50" cy="344.71" r="6.5"/><circle cx="465.10" cy="345.07" r="6.5"/><circle cx="465.70" cy="345.43" r="6.5"/><circle cx="466.30" cy="345.80" r="6.5"/><circle cx="466.90" cy="346.16" r="6.5"/><circle cx="467.50" cy="346.52" r="6.5"/><circle cx="468.10" cy="346.88" r="6.5"/><circle cx="468.70" cy="347.24" r="6.5"/><circle cx="469.30" cy="347.60" r="6.5"/><circle cx="469.90" cy="347.96" r="6.5"/><circle cx="470.50" cy="348.32" r="6.5"/><circle cx="471.10" cy="348.68" r="6.5"/><circle cx="471.70" cy="349.04" r="6.5"/><circle cx="472.30" cy="349.40" r="6.5"/><circle cx="472.90" cy="349.75" r="6.5"/><circle cx="473.50" cy="350.11" r="6.5"/><circle cx="474.10" cy="350.47" r="6.5"/><circle cx="474.70" cy="350.82" r="6.5"/><circle cx="475.30" cy="351.18" r="6.5"/><circle cx="475.90" cy="351.53" r="6.5"/><circle cx="476.50" cy="351.89" r="6.5"/><circle cx="477.10" cy="352.24" r="6.5"/><circle cx="477.70" cy="352.60" r="6.5"/><circle cx="478.30" cy="352.95" r="6.5"/><circle cx="478.90" cy="353.30" r="6.5"/><circle cx="479.50" cy="353.66" r="6.5"/><circle cx="480.10" cy="354.01" r="6.5"/><circle cx="480.70" cy="354.36" r="6.5"/><circle cx="481.30" cy="354.71" r="6.5"/><circle cx="481.90" cy="355.06" r="6.5"/><circle cx="482.50" cy="355.41" r="6.5"/><circle cx="483.10" cy="355.76" r="6.5"/><circle cx="483.70" cy="356.11" r="6.5"/><circle cx="484.30" cy="356.46" r="6.5"/><circle cx="484.90" cy="356.81" r="6.5"/><circle cx="485.50" cy="357.16" r="6.5"/><circle cx="486.10" cy="357.51" r="6.5"/><circle cx="486.70" cy="357.85" r="6.5"/><circle cx="487.30" cy="358.20" r="6.5"/><circle cx="487.90" cy="358.55" r="6.5"/><circle cx="488.50" cy="358.89" r="6.5"/><circle cx="489.10" cy="359.24" r="6.5"/><circle cx="489.70" cy="359.59" r="6.5"/><circle cx="490.30" cy="359.93" r="6.5"/><circle cx="490.90" cy="360.27" r="6.5"/><circle cx="491.50" cy="360.62" r="6.5"/><circle cx="492.10" cy="360.96" r="6.5"/><circle cx="492.70" cy="361.31" r="6.5"/><circle cx="493.30" cy="361.65" r="6.5"/><circle cx="493.90" cy="361.99" r="6.5"/><circle cx="494.50" cy="362.33" r="6.5"/><circle cx="495.10" cy="362.68" r="6.5"/><circle cx="495.70" cy="363.02" r="6.5"/><circle cx="496.30" cy="363.36" r="6.5"/><circle cx="496.90" cy="363.70" r="6.5"/><circle cx="497.50" cy="364.04" r="6.5"/><circle cx="498.10" cy="364.38" r="6.5"/><circle cx="498.70" cy="364.72" r="6.5"/><circle cx="499.30" cy="365.06" r="6.5"/><circle cx="499.90" cy="365.40" r="6.5"/><circle cx="500.50" cy="365.74" r="6.5"/><circle cx="501.10" cy="366.07" r="6.5"/><circle cx="501.70" cy="366.41" r="6.5"/><circle cx="502.30" cy="366.75" r="6.5"/><circle cx="502.90" cy="367.09" r="6.5"/><circle cx="503.50" cy="367.42" r="6.5"/><circle cx="504.10" cy="367.76" r="6.5"/><circle cx="504.70" cy="368.09" r="6.5"/><circle cx="505.30" cy="368.43" r="6.5"/><circle cx="505.90" cy="368.77" r="6.5"/><circle cx="506.50" cy="369.10" r="6.5"/><circle cx="507.10" cy="369.43" r="6.5"/><circle cx="507.70" cy="369.77" r="6.5"/><circle cx="510.00" cy="371.04" r="6.5"/><circle cx="513.00" cy="372.70" r="6.5"/><circle cx="516.00" cy="374.35" r="6.5"/><circle cx="519.00" cy="375.99" r="6.5"/><circle cx="526.00" cy="379.78" r="6.5"/><circle cx="529.70" cy="381.77" r="6.5"/><circle cx="540.00" cy="387.24" r="6.5"/><circle cx="543.00" cy="388.81" r="6.5"/><circle cx="545.00" cy="389.86" r="6.5"/><circle cx="547.00" cy="390.90" r="6.5"/><circle cx="554.00" cy="394.53" r="6.5"/><circle cx="556.50" cy="395.81" r="6.5"/><circle cx="559.00" cy="397.10" r="6.5"/><circle cx="561.50" cy="398.37" r="6.5"/><circle cx="564.00" cy="399.64" r="6.5"/><circle cx="566.50" cy="400.91" r="6.5"/><circle cx="569.00" cy="402.17" r="6.5"/><circle cx="571.50" cy="403.43" r="6.5"/><circle cx="574.00" cy="404.68" r="6.5"/><circle cx="576.50" cy="405.92" r="6.5"/><circle cx="579.00" cy="407.17" r="6.5"/><circle cx="581.50" cy="408.40" r="6.5"/><circle cx="589.00" cy="412.08" r="6.5"/><circle cx="592.50" cy="413.78" r="6.5"/><circle cx="606.00" cy="420.23" r="6.5"/><circle cx="609.60" cy="421.93" r="6.5"/><circle cx="623.00" cy="428.14" r="6.5"/><circle cx="627.10" cy="430.00" r="6.5"/><circle cx="632.30" cy="432.35" r="6.5"/><circle cx="635.50" cy="433.78" r="6.5"/><circle cx="638.50" cy="435.11" r="6.5"/><circle cx="642.60" cy="436.92" r="6.5"/><circle cx="645.70" cy="438.28" r="6.5"/><circle cx="647.80" cy="439.19" r="6.5"/><circle cx="686.70" cy="455.40" r="6.5"/><circle cx="703.80" cy="462.20" r="6.5"/><circle cx="705.10" cy="462.80" r="6.5"/><circle cx="721.40" cy="468.60" r="6.5"/><circle cx="740.70" cy="475.80" r="6.5"/><circle cx="822.30" cy="503.20" r="6.5"/><circle cx="894.20" cy="523.40" r="6.5"/></g>
<g fill="none" stroke="#0000ff" stroke-width="1.8" stroke-linejoin="miter"><path d="M178.30 220.55L186.40 234.58H170.20Z"/><path d="M180.30 218.49L188.40 232.52H172.20Z"/><path d="M182.30 216.41L190.40 230.44H174.20Z"/><path d="M184.50 214.09L192.60 228.11H176.40Z"/><path d="M186.50 211.95L194.60 225.98H178.40Z"/><path d="M188.50 209.79L196.60 223.81H180.40Z"/><path d="M190.00 208.15L198.10 222.18H181.90Z"/><path d="M191.00 207.06L199.10 221.08H182.90Z"/><path d="M192.00 205.95L200.10 219.98H183.90Z"/><path d="M193.00 204.85L201.10 218.87H184.90Z"/><path d="M194.00 203.73L202.10 217.76H185.90Z"/><path d="M195.00 202.62L203.10 216.64H186.90Z"/><path d="M196.00 201.49L204.10 215.52H187.90Z"/><path d="M197.00 200.37L205.10 214.39H188.90Z"/><path d="M198.00 199.24L206.10 213.26H189.90Z"/><path d="M199.00 198.10L207.10 212.13H190.90Z"/><path d="M200.00 196.97L208.10 210.99H191.90Z"/><path d="M201.00 195.82L209.10 209.85H192.90Z"/><path d="M202.00 194.68L210.10 208.70H193.90Z"/><path d="M203.00 193.53L211.10 207.55H194.90Z"/><path d="M204.00 192.38L212.10 206.40H195.90Z"/><path d="M205.00 191.22L213.10 205.25H196.90Z"/><path d="M206.00 190.06L214.10 204.09H197.90Z"/><path d="M207.00 188.90L215.10 202.93H198.90Z"/><path d="M208.00 187.74L216.10 201.76H199.90Z"/><path d="M209.00 186.57L217.10 200.60H200.90Z"/><path d="M210.00 185.40L218.10 199.43H201.90Z"/><path d="M211.00 184.23L219.10 198.26H202.90Z"/><path d="M212.00 183.06L220.10 197.09H203.90Z"/><path d="M213.00 181.89L221.10 195.91H204.90Z"/><path d="M214.00 180.71L222.10 194.74H205.90Z"/><path d="M215.00 179.53L223.10 193.56H206.90Z"/><path d="M216.00 178.36L224.10 192.38H207.90Z"/><path d="M217.00 177.18L225.10 191.20H208.90Z"/><path d="M218.00 176.00L226.10 190.02H209.90Z"/><path d="M219.00 174.82L227.10 188.84H210.90Z"/><path d="M220.00 173.64L228.10 187.66H211.90Z"/><path d="M221.00 172.46L229.10 186.49H212.90Z"/><path d="M222.00 171.29L230.10 185.31H213.90Z"/><path d="M223.00 170.11L231.10 184.14H214.90Z"/><path d="M224.00 168.94L232.10 182.97H215.90Z"/><path d="M225.00 167.77L233.10 181.80H216.90Z"/><path d="M226.00 166.61L234.10 180.64H217.90Z"/><path d="M227.00 165.45L235.10 179.48H218.90Z"/><path d="M228.00 164.30L236.10 178.32H219.90Z"/><path d="M229.00 163.15L237.10 177.17H220.90Z"/><path d="M230.00 162.00L238.10 176.03H221.90Z"/><path d="M230.60 161.32L238.70 175.35H222.50Z"/><path d="M231.20 160.64L239.30 174.66H223.10Z"/><path d="M231.80 159.96L239.90 173.99H223.70Z"/><path d="M232.40 159.29L240.50 173.31H224.30Z"/><path d="M233.00 158.61L241.10 172.64H224.90Z"/><path d="M233.60 157.94L241.70 171.97H225.50Z"/><path d="M234.20 157.28L242.30 171.30H226.10Z"/><path d="M234.80 156.61L242.90 170.64H226.70Z"/><path d="M235.40 155.95L243.50 169.98H227.30Z"/><path d="M236.00 155.29L244.10 169.32H227.90Z"/><path d="M236.60 154.64L244.70 168.66H228.50Z"/><path d="M237.20 153.99L245.30 168.01H229.10Z"/><path d="M237.80 153.34L245.90 167.37H229.70Z"/><path d="M238.40 152.70L246.50 166.72H230.30Z"/><path d="M239.00 152.06L247.10 166.08H230.90Z"/><path d="M239.60 151.42L247.70 165.45H231.50Z"/><path d="M240.20 150.79L248.30 164.81H232.10Z"/><path d="M240.80 150.16L248.90 164.19H232.70Z"/><path d="M241.40 149.54L249.50 163.56H233.30Z"/><path d="M242.00 148.92L250.10 162.94H233.90Z"/><path d="M242.60 148.30L250.70 162.33H234.50Z"/><path d="M243.20 147.69L251.30 161.72H235.10Z"/><path d="M243.80 147.09L251.90 161.11H235.70Z"/><path d="M244.40 146.49L252.50 160.51H236.30Z"/><path d="M245.00 145.89L253.10 159.92H236.90Z"/><path d="M245.60 145.30L253.70 159.33H237.50Z"/><path d="M246.20 144.72L254.30 158.74H238.10Z"/><path d="M246.80 144.14L254.90 158.16H238.70Z"/><path d="M247.40 143.56L255.50 157.59H239.30Z"/><path d="M248.00 142.99L256.10 157.02H239.90Z"/><path d="M248.60 142.43L256.70 156.45H240.50Z"/><path d="M249.20 141.87L257.30 155.90H241.10Z"/><path d="M249.80 141.32L257.90 155.34H241.70Z"/><path d="M250.40 140.77L258.50 154.80H242.30Z"/><path d="M251.00 140.23L259.10 154.26H242.90Z"/><path d="M251.60 139.70L259.70 153.72H243.50Z"/><path d="M252.20 139.17L260.30 153.19H244.10Z"/><path d="M252.80 138.65L260.90 152.67H244.70Z"/><path d="M253.40 138.13L261.50 152.15H245.30Z"/><path d="M254.00 137.62L262.10 151.64H245.90Z"/><path d="M254.60 137.12L262.70 151.14H246.50Z"/><path d="M255.20 136.62L263.30 150.64H247.10Z"/><path d="M255.80 136.13L263.90 150.15H247.70Z"/><path d="M256.40 135.64L264.50 149.67H248.30Z"/><path d="M257.00 135.16L265.10 149.19H248.90Z"/><path d="M257.60 134.69L265.70 148.72H249.50Z"/><path d="M258.20 134.22L266.30 148.25H250.10Z"/><path d="M258.80 133.77L266.90 147.79H250.70Z"/><path d="M259.40 133.31L267.50 147.34H251.30Z"/><path d="M260.00 132.87L268.10 146.89H251.90Z"/><path d="M260.60 132.43L268.70 146.45H252.50Z"/><path d="M261.20 131.99L269.30 146.02H253.10Z"/><path d="M261.80 131.57L269.90 145.59H253.70Z"/><path d="M262.40 131.15L270.50 145.17H254.30Z"/><path d="M263.00 130.74L271.10 144.76H254.90Z"/><path d="M263.60 130.33L271.70 144.35H255.50Z"/><path d="M264.20 129.93L272.30 143.96H256.10Z"/><path d="M264.80 129.54L272.90 143.56H256.70Z"/><path d="M265.40 129.15L273.50 143.18H257.30Z"/><path d="M266.00 128.77L274.10 142.80H257.90Z"/><path d="M266.60 128.40L274.70 142.43H258.50Z"/><path d="M267.20 128.04L275.30 142.06H259.10Z"/><path d="M267.80 127.68L275.90 141.71H259.70Z"/><path d="M268.40 127.33L276.50 141.36H260.30Z"/><path d="M269.00 126.99L277.10 141.01H260.90Z"/><path d="M269.60 126.65L277.70 140.68H261.50Z"/><path d="M270.20 126.33L278.30 140.35H262.10Z"/><path d="M270.80 126.01L278.90 140.03H262.70Z"/><path d="M271.40 125.69L279.50 139.72H263.30Z"/><path d="M272.00 125.39L280.10 139.41H263.90Z"/><path d="M272.60 125.09L280.70 139.11H264.50Z"/><path d="M273.20 124.80L281.30 138.82H265.10Z"/><path d="M273.80 124.51L281.90 138.54H265.70Z"/><path d="M274.40 124.24L282.50 138.26H266.30Z"/><path d="M275.00 123.97L283.10 137.99H266.90Z"/><path d="M275.60 123.71L283.70 137.73H267.50Z"/><path d="M276.20 123.45L284.30 137.48H268.10Z"/><path d="M276.80 123.21L284.90 137.23H268.70Z"/><path d="M277.40 122.97L285.50 137.00H269.30Z"/><path d="M278.00 122.74L286.10 136.77H269.90Z"/><path d="M278.60 122.52L286.70 136.54H270.50Z"/><path d="M279.20 122.31L287.30 136.33H271.10Z"/><path d="M279.80 122.10L287.90 136.13H271.70Z"/><path d="M280.40 121.91L288.50 135.93H272.30Z"/><path d="M281.00 121.72L289.10 135.74H272.90Z"/><path d="M281.60 121.54L289.70 135.56H273.50Z"/><path d="M282.20 121.37L290.30 135.39H274.10Z"/><path d="M282.80 121.21L290.90 135.23H274.70Z"/><path d="M283.40 121.05L291.50 135.08H275.30Z"/><path d="M284.00 120.91L292.10 134.94H275.90Z"/><path d="M284.60 120.78L292.70 134.80H276.50Z"/><path d="M285.20 120.65L293.30 134.68H277.10Z"/><path d="M285.80 120.54L293.90 134.56H277.70Z"/><path d="M286.40 120.43L294.50 134.45H278.30Z"/><path d="M287.00 120.33L295.10 134.36H278.90Z"/><path d="M287.60 120.24L295.70 134.27H279.50Z"/><path d="M288.20 120.17L296.30 134.19H280.10Z"/><path d="M288.80 120.10L296.90 134.12H280.70Z"/><path d="M289.40 120.04L297.50 134.07H281.30Z"/><path d="M290.00 119.99L298.10 134.02H281.90Z"/><path d="M290.60 119.95L298.70 133.98H282.50Z"/><path d="M291.20 119.93L299.30 133.95H283.10Z"/><path d="M291.80 119.91L299.90 133.93H283.70Z"/><path d="M292.40 119.90L300.50 133.93H284.30Z"/><path d="M293.00 119.91L301.10 133.93H284.90Z"/><path d="M293.60 119.92L301.70 133.94H285.50Z"/><path d="M294.20 119.94L302.30 133.97H286.10Z"/><path d="M294.80 119.98L302.90 134.00H286.70Z"/><path d="M295.40 120.03L303.50 134.05H287.30Z"/><path d="M296.00 120.08L304.10 134.11H287.90Z"/><path d="M296.60 120.15L304.70 134.18H288.50Z"/><path d="M297.20 120.23L305.30 134.26H289.10Z"/><path d="M297.80 120.32L305.90 134.34H289.70Z"/><path d="M298.40 120.42L306.50 134.44H290.30Z"/><path d="M299.00 120.53L307.10 134.56H290.90Z"/><path d="M299.60 120.65L307.70 134.68H291.50Z"/><path d="M300.20 120.78L308.30 134.81H292.10Z"/><path d="M300.80 120.93L308.90 134.95H292.70Z"/><path d="M301.40 121.08L309.50 135.10H293.30Z"/><path d="M302.00 121.24L310.10 135.27H293.90Z"/><path d="M302.60 121.41L310.70 135.44H294.50Z"/><path d="M303.20 121.60L311.30 135.62H295.10Z"/><path d="M303.80 121.79L311.90 135.81H295.70Z"/><path d="M304.40 121.99L312.50 136.02H296.30Z"/><path d="M305.00 122.21L313.10 136.23H296.90Z"/><path d="M305.60 122.43L313.70 136.45H297.50Z"/><path d="M306.20 122.66L314.30 136.69H298.10Z"/><path d="M306.80 122.90L314.90 136.93H298.70Z"/><path d="M307.40 123.16L315.50 137.18H299.30Z"/><path d="M308.00 123.42L316.10 137.44H299.90Z"/><path d="M308.60 123.69L316.70 137.72H300.50Z"/><path d="M309.20 123.97L317.30 138.00H301.10Z"/><path d="M309.80 124.26L317.90 138.29H301.70Z"/><path d="M310.40 124.56L318.50 138.59H302.30Z"/><path d="M311.00 124.87L319.10 138.90H302.90Z"/><path d="M311.60 125.19L319.70 139.22H303.50Z"/><path d="M312.20 125.52L320.30 139.54H304.10Z"/><path d="M312.80 125.86L320.90 139.88H304.70Z"/><path d="M313.40 126.20L321.50 140.23H305.30Z"/><path d="M314.00 126.56L322.10 140.58H305.90Z"/><path d="M314.60 126.92L322.70 140.95H306.50Z"/><path d="M315.20 127.30L323.30 141.32H307.10Z"/><path d="M315.80 127.68L323.90 141.70H307.70Z"/><path d="M316.40 128.07L324.50 142.09H308.30Z"/><path d="M317.00 128.47L325.10 142.49H308.90Z"/><path d="M317.60 128.88L325.70 142.90H309.50Z"/><path d="M318.20 129.30L326.30 143.32H310.10Z"/><path d="M318.80 129.72L326.90 143.75H310.70Z"/><path d="M319.40 130.16L327.50 144.18H311.30Z"/><path d="M320.00 130.60L328.10 144.63H311.90Z"/><path d="M320.60 131.06L328.70 145.08H312.50Z"/><path d="M321.20 131.52L329.30 145.55H313.10Z"/><path d="M321.80 131.99L329.90 146.02H313.70Z"/><path d="M322.40 132.48L330.50 146.50H314.30Z"/><path d="M323.00 132.97L331.10 146.99H314.90Z"/><path d="M323.60 133.47L331.70 147.49H315.50Z"/><path d="M324.20 133.97L332.30 148.00H316.10Z"/><path d="M324.80 134.49L332.90 148.52H316.70Z"/><path d="M325.40 135.02L333.50 149.04H317.30Z"/><path d="M326.00 135.56L334.10 149.58H317.90Z"/><path d="M326.60 136.10L334.70 150.13H318.50Z"/><path d="M327.20 136.66L335.30 150.68H319.10Z"/><path d="M327.80 137.22L335.90 151.25H319.70Z"/><path d="M328.40 137.79L336.50 151.82H320.30Z"/><path d="M329.00 138.38L337.10 152.40H320.90Z"/><path d="M329.60 138.97L337.70 152.99H321.50Z"/><path d="M330.20 139.57L338.30 153.59H322.10Z"/><path d="M330.80 140.18L338.90 154.20H322.70Z"/><path d="M331.40 140.80L339.50 154.82H323.30Z"/><path d="M332.00 141.43L340.10 155.45H323.90Z"/><path d="M332.60 142.07L340.70 156.09H324.50Z"/><path d="M333.20 142.71L341.30 156.74H325.10Z"/><path d="M333.80 143.37L341.90 157.40H325.70Z"/><path d="M334.40 144.04L342.50 158.06H326.30Z"/><path d="M335.00 144.71L343.10 158.74H326.90Z"/><path d="M335.60 145.40L343.70 159.43H327.50Z"/><path d="M336.20 146.10L344.30 160.12H328.10Z"/><path d="M336.80 146.80L344.90 160.82H328.70Z"/><path d="M337.40 147.51L345.50 161.54H329.30Z"/><path d="M338.00 148.24L346.10 162.26H329.90Z"/><path d="M338.60 148.97L346.70 163.00H330.50Z"/><path d="M339.20 149.71L347.30 163.74H331.10Z"/><path d="M339.80 150.47L347.90 164.49H331.70Z"/><path d="M340.40 151.23L348.50 165.25H332.30Z"/><path d="M341.00 152.00L349.10 166.02H332.90Z"/><path d="M341.60 152.78L349.70 166.80H333.50Z"/><path d="M342.20 153.57L350.30 167.59H334.10Z"/><path d="M342.80 154.37L350.90 168.39H334.70Z"/><path d="M343.40 155.18L351.50 169.20H335.30Z"/><path d="M344.00 155.99L352.10 170.02H335.90Z"/><path d="M344.60 156.82L352.70 170.84H336.50Z"/><path d="M345.20 157.65L353.30 171.67H337.10Z"/><path d="M345.80 158.49L353.90 172.52H337.70Z"/><path d="M346.40 159.34L354.50 173.37H338.30Z"/><path d="M347.00 160.20L355.10 174.22H338.90Z"/><path d="M347.60 161.06L355.70 175.09H339.50Z"/><path d="M348.20 161.94L356.30 175.96H340.10Z"/><path d="M348.80 162.82L356.90 176.84H340.70Z"/><path d="M349.40 163.70L357.50 177.73H341.30Z"/><path d="M350.00 164.60L358.10 178.62H341.90Z"/><path d="M350.60 165.50L358.70 179.52H342.50Z"/><path d="M351.20 166.41L359.30 180.43H343.10Z"/><path d="M351.80 167.32L359.90 181.35H343.70Z"/><path d="M352.40 168.24L360.50 182.27H344.30Z"/><path d="M353.00 169.17L361.10 183.20H344.90Z"/><path d="M353.60 170.11L361.70 184.13H345.50Z"/><path d="M354.20 171.04L362.30 185.07H346.10Z"/><path d="M354.80 171.99L362.90 186.02H346.70Z"/><path d="M355.40 172.94L363.50 186.97H347.30Z"/><path d="M356.00 173.90L364.10 187.92H347.90Z"/><path d="M356.60 174.86L364.70 188.89H348.50Z"/><path d="M357.20 175.83L365.30 189.85H349.10Z"/><path d="M357.80 176.80L365.90 190.82H349.70Z"/><path d="M358.40 177.78L366.50 191.80H350.30Z"/><path d="M359.00 178.76L367.10 192.78H350.90Z"/><path d="M359.60 179.74L367.70 193.77H351.50Z"/><path d="M360.20 180.74L368.30 194.76H352.10Z"/><path d="M360.80 181.73L368.90 195.76H352.70Z"/><path d="M361.40 182.73L369.50 196.75H353.30Z"/><path d="M362.00 183.73L370.10 197.76H353.90Z"/><path d="M362.60 184.74L370.70 198.76H354.50Z"/><path d="M363.20 185.75L371.30 199.77H355.10Z"/><path d="M363.80 186.76L371.90 200.79H355.70Z"/><path d="M364.40 187.78L372.50 201.81H356.30Z"/><path d="M365.00 188.80L373.10 202.83H356.90Z"/><path d="M365.60 189.82L373.70 203.85H357.50Z"/><path d="M366.20 190.85L374.30 204.87H358.10Z"/><path d="M366.80 191.88L374.90 205.90H358.70Z"/><path d="M367.40 192.91L375.50 206.93H359.30Z"/><path d="M368.00 193.94L376.10 207.97H359.90Z"/><path d="M368.60 194.98L376.70 209.00H360.50Z"/><path d="M369.20 196.02L377.30 210.04H361.10Z"/><path d="M369.80 197.05L377.90 211.08H361.70Z"/><path d="M370.40 198.10L378.50 212.12H362.30Z"/><path d="M371.00 199.14L379.10 213.16H362.90Z"/><path d="M371.60 200.18L379.70 214.21H363.50Z"/><path d="M372.20 201.23L380.30 215.25H364.10Z"/><path d="M372.80 202.28L380.90 216.30H364.70Z"/><path d="M373.40 203.32L381.50 217.35H365.30Z"/><path d="M374.00 204.38L382.10 218.40H365.90Z"/><path d="M374.60 205.43L382.70 219.45H366.50Z"/><path d="M375.20 206.48L383.30 220.51H367.10Z"/><path d="M375.80 207.54L383.90 221.56H367.70Z"/><path d="M376.40 208.59L384.50 222.62H368.30Z"/><path d="M377.00 209.65L385.10 223.68H368.90Z"/><path d="M377.60 210.71L385.70 224.74H369.50Z"/><path d="M378.20 211.77L386.30 225.80H370.10Z"/><path d="M378.80 212.84L386.90 226.86H370.70Z"/><path d="M379.40 213.90L387.50 227.93H371.30Z"/><path d="M380.00 214.97L388.10 228.99H371.90Z"/><path d="M380.60 216.03L388.70 230.06H372.50Z"/><path d="M381.20 217.10L389.30 231.13H373.10Z"/><path d="M381.80 218.17L389.90 232.20H373.70Z"/><path d="M382.40 219.24L390.50 233.27H374.30Z"/><path d="M383.00 220.32L391.10 234.34H374.90Z"/><path d="M383.60 221.39L391.70 235.42H375.50Z"/><path d="M384.20 222.47L392.30 236.49H376.10Z"/><path d="M384.80 223.54L392.90 237.57H376.70Z"/><path d="M385.40 224.62L393.50 238.65H377.30Z"/><path d="M386.00 225.70L394.10 239.73H377.90Z"/><path d="M386.60 226.78L394.70 240.81H378.50Z"/><path d="M387.20 227.87L395.30 241.89H379.10Z"/><path d="M387.80 228.95L395.90 242.98H379.70Z"/><path d="M388.40 230.04L396.50 244.06H380.30Z"/><path d="M389.00 231.12L397.10 245.15H380.90Z"/><path d="M389.60 232.21L397.70 246.24H381.50Z"/><path d="M390.20 233.30L398.30 247.33H382.10Z"/><path d="M390.80 234.39L398.90 248.42H382.70Z"/><path d="M391.40 235.48L399.50 249.51H383.30Z"/><path d="M392.00 236.58L400.10 250.60H383.90Z"/><path d="M392.60 237.67L400.70 251.70H384.50Z"/><path d="M393.20 238.77L401.30 252.79H385.10Z"/><path d="M393.80 239.86L401.90 253.89H385.70Z"/><path d="M394.40 240.96L402.50 254.99H386.30Z"/><path d="M395.00 242.06L403.10 256.09H386.90Z"/><path d="M395.60 243.16L403.70 257.19H387.50Z"/><path d="M396.20 244.26L404.30 258.29H388.10Z"/><path d="M396.80 245.37L404.90 259.39H388.70Z"/><path d="M397.40 246.47L405.50 260.50H389.30Z"/><path d="M398.00 247.58L406.10 261.60H389.90Z"/><path d="M398.60 248.68L406.70 262.71H390.50Z"/><path d="M399.20 249.79L407.30 263.82H391.10Z"/><path d="M399.80 250.90L407.90 264.92H391.70Z"/><path d="M400.40 252.01L408.50 266.03H392.30Z"/><path d="M401.00 253.12L409.10 267.15H392.90Z"/><path d="M401.60 254.23L409.70 268.26H393.50Z"/><path d="M402.20 255.35L410.30 269.37H394.10Z"/><path d="M402.80 256.46L410.90 270.49H394.70Z"/><path d="M403.40 257.58L411.50 271.60H395.30Z"/><path d="M404.00 258.69L412.10 272.72H395.90Z"/><path d="M404.60 259.81L412.70 273.83H396.50Z"/><path d="M405.20 260.93L413.30 274.95H397.10Z"/><path d="M405.80 262.04L413.90 276.07H397.70Z"/><path d="M406.40 263.16L414.50 277.19H398.30Z"/><path d="M407.00 264.28L415.10 278.31H398.90Z"/><path d="M407.60 265.40L415.70 279.43H399.50Z"/><path d="M408.20 266.53L416.30 280.55H400.10Z"/><path d="M408.80 267.65L416.90 281.67H400.70Z"/><path d="M409.40 268.77L417.50 282.79H401.30Z"/><path d="M410.00 269.89L418.10 283.92H401.90Z"/><path d="M410.60 271.02L418.70 285.04H402.50Z"/><path d="M411.20 272.14L419.30 286.16H403.10Z"/><path d="M411.80 273.26L419.90 287.29H403.70Z"/><path d="M412.40 274.39L420.50 288.41H404.30Z"/><path d="M413.00 275.51L421.10 289.54H404.90Z"/><path d="M413.60 276.64L421.70 290.66H405.50Z"/><path d="M414.20 277.76L422.30 291.79H406.10Z"/><path d="M414.80 278.89L422.90 292.91H406.70Z"/><path d="M415.40 280.01L423.50 294.04H407.30Z"/><path d="M416.00 281.13L424.10 295.16H407.90Z"/><path d="M416.60 282.26L424.70 296.28H408.50Z"/><path d="M417.20 283.38L425.30 297.41H409.10Z"/><path d="M417.80 284.51L425.90 298.53H409.70Z"/><path d="M418.40 285.63L426.50 299.66H410.30Z"/><path d="M419.00 286.76L427.10 300.78H410.90Z"/><path d="M419.60 287.88L427.70 301.91H411.50Z"/><path d="M420.80 290.13L428.90 304.16H412.70Z"/><path d="M421.60 291.63L429.70 305.65H413.50Z"/><path d="M422.40 293.13L430.50 307.15H414.30Z"/><path d="M423.20 294.62L431.30 308.65H415.10Z"/><path d="M424.00 296.12L432.10 310.14H415.90Z"/><path d="M424.80 297.61L432.90 311.64H416.70Z"/><path d="M425.60 299.10L433.70 313.13H417.50Z"/><path d="M426.40 300.60L434.50 314.62H418.30Z"/><path d="M427.20 302.09L435.30 316.11H419.10Z"/><path d="M428.00 303.58L436.10 317.60H419.90Z"/><path d="M428.80 305.06L436.90 319.09H420.70Z"/><path d="M429.60 306.55L437.70 320.57H421.50Z"/><path d="M430.40 308.03L438.50 322.06H422.30Z"/><path d="M431.20 309.52L439.30 323.54H423.10Z"/><path d="M432.00 311.00L440.10 325.02H423.90Z"/><path d="M432.80 312.48L440.90 326.50H424.70Z"/><path d="M433.60 313.95L441.70 327.98H425.50Z"/><path d="M434.40 315.43L442.50 329.45H426.30Z"/><path d="M435.20 316.90L443.30 330.92H427.10Z"/><path d="M436.00 318.37L444.10 332.39H427.90Z"/><path d="M436.80 319.83L444.90 333.86H428.70Z"/><path d="M437.60 321.30L445.70 335.32H429.50Z"/><path d="M438.40 322.76L446.50 336.78H430.30Z"/><path d="M439.20 324.22L447.30 338.24H431.10Z"/><path d="M440.00 325.67L448.10 339.70H431.90Z"/><path d="M440.80 327.13L448.90 341.15H432.70Z"/><path d="M441.60 328.57L449.70 342.60H433.50Z"/><path d="M442.40 330.02L450.50 344.05H434.30Z"/><path d="M443.20 331.46L451.30 345.49H435.10Z"/><path d="M444.00 332.90L452.10 346.93H435.90Z"/><path d="M444.80 334.34L452.90 348.36H436.70Z"/><path d="M445.60 335.77L453.70 349.80H437.50Z"/><path d="M446.40 337.20L454.50 351.22H438.30Z"/><path d="M447.20 338.62L455.30 352.65H439.10Z"/><path d="M448.00 340.04L456.10 354.07H439.90Z"/><path d="M448.80 341.46L456.90 355.48H440.70Z"/><path d="M449.60 342.87L457.70 356.90H441.50Z"/><path d="M450.40 344.28L458.50 358.30H442.30Z"/><path d="M451.20 345.68L459.30 359.71H443.10Z"/><path d="M452.00 347.08L460.10 361.11H443.90Z"/><path d="M452.80 348.48L460.90 362.50H444.70Z"/><path d="M453.60 349.86L461.70 363.89H445.50Z"/><path d="M454.40 351.25L462.50 365.27H446.30Z"/><path d="M455.20 352.63L463.30 366.65H447.10Z"/><path d="M456.00 354.00L464.10 368.03H447.90Z"/><path d="M456.80 355.37L464.90 369.40H448.70Z"/><path d="M457.60 356.74L465.70 370.76H449.50Z"/><path d="M458.40 358.10L466.50 372.12H450.30Z"/><path d="M459.20 359.45L467.30 373.48H451.10Z"/><path d="M460.00 360.80L468.10 374.83H451.90Z"/><path d="M460.80 362.14L468.90 376.17H452.70Z"/><path d="M461.60 363.48L469.70 377.51H453.50Z"/><path d="M462.40 364.81L470.50 378.84H454.30Z"/><path d="M463.20 366.14L471.30 380.16H455.10Z"/><path d="M464.00 367.46L472.10 381.48H455.90Z"/><path d="M464.80 368.77L472.90 382.80H456.70Z"/><path d="M465.60 370.08L473.70 384.11H457.50Z"/><path d="M466.40 371.38L474.50 385.41H458.30Z"/><path d="M467.20 372.68L475.30 386.71H459.10Z"/><path d="M468.00 373.97L476.10 388.00H459.90Z"/><path d="M468.80 375.26L476.90 389.28H460.70Z"/><path d="M469.60 376.54L477.70 390.56H461.50Z"/><path d="M470.40 377.81L478.50 391.83H462.30Z"/><path d="M471.20 379.08L479.30 393.10H463.10Z"/><path d="M472.00 380.34L480.10 394.36H463.90Z"/><path d="M472.80 381.59L480.90 395.62H464.70Z"/><path d="M473.60 382.84L481.70 396.87H465.50Z"/><path d="M474.40 384.09L482.50 398.11H466.30Z"/><path d="M475.20 385.32L483.30 399.35H467.10Z"/><path d="M476.00 386.55L484.10 400.58H467.90Z"/><path d="M476.80 387.78L484.90 401.80H468.70Z"/><path d="M477.60 389.00L485.70 403.02H469.50Z"/><path d="M478.40 390.21L486.50 404.24H470.30Z"/><path d="M479.20 391.42L487.30 405.44H471.10Z"/><path d="M480.00 392.62L488.10 406.64H471.90Z"/><path d="M480.80 393.81L488.90 407.84H472.70Z"/><path d="M481.60 395.00L489.70 409.02H473.50Z"/><path d="M482.40 396.18L490.50 410.20H474.30Z"/><path d="M483.20 397.35L491.30 411.38H475.10Z"/><path d="M484.00 398.52L492.10 412.55H475.90Z"/><path d="M484.80 399.68L492.90 413.71H476.70Z"/><path d="M485.60 400.84L493.70 414.87H477.50Z"/><path d="M486.40 401.99L494.50 416.01H478.30Z"/><path d="M487.20 403.13L495.30 417.16H479.10Z"/><path d="M488.00 404.27L496.10 418.29H479.90Z"/><path d="M488.80 405.40L496.90 419.42H480.70Z"/><path d="M489.60 406.52L497.70 420.55H481.50Z"/><path d="M490.40 407.64L498.50 421.66H482.30Z"/><path d="M491.20 408.75L499.30 422.77H483.10Z"/><path d="M492.00 409.85L500.10 423.88H483.90Z"/><path d="M492.80 410.95L500.90 424.97H484.70Z"/><path d="M493.60 412.04L501.70 426.06H485.50Z"/><path d="M494.40 413.12L502.50 427.14H486.30Z"/><path d="M495.20 414.20L503.30 428.22H487.10Z"/><path d="M496.00 415.27L504.10 429.29H487.90Z"/><path d="M496.80 416.33L504.90 430.35H488.70Z"/><path d="M497.60 417.39L505.70 431.41H489.50Z"/><path d="M498.40 418.44L506.50 432.46H490.30Z"/><path d="M499.20 419.48L507.30 433.51H491.10Z"/><path d="M500.00 420.52L508.10 434.54H491.90Z"/><path d="M500.80 421.55L508.90 435.57H492.70Z"/><path d="M502.10 423.21L510.20 437.23H494.00Z"/><path d="M503.40 424.85L511.50 438.88H495.30Z"/><path d="M504.70 426.48L512.80 440.50H496.60Z"/><path d="M506.00 428.08L514.10 442.11H497.90Z"/><path d="M507.30 429.67L515.40 443.70H499.20Z"/><path d="M508.60 431.24L516.70 445.27H500.50Z"/><path d="M509.90 432.80L518.00 446.82H501.80Z"/><path d="M511.20 434.34L519.30 448.36H503.10Z"/><path d="M512.50 435.86L520.60 449.88H504.40Z"/><path d="M513.80 437.36L521.90 451.38H505.70Z"/><path d="M515.10 438.84L523.20 452.87H507.00Z"/><path d="M516.40 440.31L524.50 454.34H508.30Z"/><path d="M517.70 441.76L525.80 455.78H509.60Z"/><path d="M519.00 443.19L527.10 457.22H510.90Z"/><path d="M520.30 444.61L528.40 458.63H512.20Z"/><path d="M521.60 446.00L529.70 460.03H513.50Z"/><path d="M522.90 447.38L531.00 461.41H514.80Z"/><path d="M524.20 448.74L532.30 462.77H516.10Z"/><path d="M525.50 450.09L533.60 464.11H517.40Z"/><path d="M526.80 451.42L534.90 465.44H518.70Z"/><path d="M528.10 452.73L536.20 466.75H520.00Z"/><path d="M529.40 454.03L537.50 468.05H521.30Z"/><path d="M530.70 455.30L538.80 469.33H522.60Z"/><path d="M532.00 456.57L540.10 470.59H523.90Z"/><path d="M533.30 457.82L541.40 471.84H525.20Z"/><path d="M534.60 459.05L542.70 473.07H526.50Z"/><path d="M535.90 460.27L544.00 474.29H527.80Z"/><path d="M537.20 461.47L545.30 475.50H529.10Z"/><path d="M538.50 462.66L546.60 476.68H530.40Z"/><path d="M548.90 471.66L557.00 485.68H540.80Z"/><path d="M551.10 473.45L559.20 487.48H543.00Z"/><path d="M553.30 475.21L561.40 489.24H545.20Z"/><path d="M555.50 476.94L563.60 490.96H547.40Z"/><path d="M557.70 478.63L565.80 492.65H549.60Z"/><path d="M559.90 480.29L568.00 494.31H551.80Z"/><path d="M562.10 481.91L570.20 495.94H554.00Z"/><path d="M564.30 483.51L572.40 497.54H556.20Z"/><path d="M578.30 492.75L586.40 506.77H570.20Z"/><path d="M579.10 493.25L587.20 507.27H571.00Z"/><path d="M595.20 502.85L603.30 516.88H587.10Z"/><path d="M597.40 504.05L605.50 518.07H589.30Z"/><path d="M612.30 512.35L620.40 526.38H604.20Z"/><path d="M630.90 521.75L639.00 535.77H622.80Z"/><path d="M638.30 525.55L646.40 539.57H630.20Z"/><path d="M663.40 536.65L671.50 550.67H655.30Z"/><path d="M667.50 538.15L675.60 552.17H659.40Z"/><path d="M671.80 539.65L679.90 553.67H663.70Z"/><path d="M676.80 540.65L684.90 554.67H668.70Z"/><path d="M682.40 544.15L690.50 558.17H674.30Z"/><path d="M696.40 549.15L704.50 563.17H688.30Z"/><path d="M731.20 561.15L739.30 575.17H723.10Z"/><path d="M743.90 565.25L752.00 579.27H735.80Z"/><path d="M760.90 570.15L769.00 584.17H752.80Z"/><path d="M809.05 582.87L817.15 596.89H800.95Z"/><path d="M847.54 591.78L855.64 605.80H839.44Z"/><path d="M935.60 607.05L943.70 621.07H927.50Z"/></g>
<g stroke="#000" stroke-width="1.7" fill="none" stroke-linecap="round">
<rect x="135.2" y="2.1" width="831" height="725.6"/>
<line x1="166.00" y1="727.7" x2="166.00" y2="745.6"/>
<line x1="288.33" y1="727.7" x2="288.33" y2="745.6"/>
<line x1="410.67" y1="727.7" x2="410.67" y2="745.6"/>
<line x1="533.00" y1="727.7" x2="533.00" y2="745.6"/>
<line x1="655.33" y1="727.7" x2="655.33" y2="745.6"/>
<line x1="777.66" y1="727.7" x2="777.66" y2="745.6"/>
<line x1="900.00" y1="727.7" x2="900.00" y2="745.6"/>
<line x1="117.3" y1="648.30" x2="135.2" y2="648.30"/>
<line x1="117.3" y1="462.36" x2="135.2" y2="462.36"/>
<line x1="117.3" y1="276.43" x2="135.2" y2="276.43"/>
<line x1="117.3" y1="90.49" x2="135.2" y2="90.49"/>
</g>
<g font-family="Liberation Serif" font-size="30.5px" fill="#000" stroke="#fff" stroke-width="0.35"><text transform="translate(160.25,790.80) scale(0.752,1)">0</text><text transform="translate(275.80,790.80) scale(0.654,1)">1</text><text transform="translate(289.85,790.80) scale(0.752,1)">0</text><text transform="translate(397.65,790.80) scale(0.772,1)">2</text><text transform="translate(412.18,790.80) scale(0.752,1)">0</text><text transform="translate(520.16,790.80) scale(0.714,1)">3</text><text transform="translate(534.51,790.80) scale(0.752,1)">0</text><text transform="translate(642.48,790.80) scale(0.725,1)">4</text><text transform="translate(656.84,790.80) scale(0.752,1)">0</text><text transform="translate(764.45,790.80) scale(0.748,1)">5</text><text transform="translate(779.18,790.80) scale(0.752,1)">0</text><text transform="translate(887.04,790.80) scale(0.725,1)">6</text><text transform="translate(901.51,790.80) scale(0.752,1)">0</text><text transform="translate(428.27,860.40) scale(0.543,1)">D</text><text transform="translate(445.95,860.40) scale(0.644,1)">i</text><text transform="translate(458.19,860.40) scale(0.735,1)">e</text><text transform="translate(474.79,860.40) scale(0.688,1)">t</text><text transform="translate(487.37,860.40) scale(0.692,1)">a</text><text transform="translate(502.97,860.40) scale(0.731,1)">r</text><text transform="translate(516.44,860.40) scale(0.633,1)">y</text><text transform="translate(546.40,860.40) scale(0.720,1)">f</text><text transform="translate(562.19,860.40) scale(0.644,1)">i</text><text transform="translate(574.81,860.40) scale(0.660,1)">b</text><text transform="translate(588.96,860.40) scale(0.735,1)">e</text><text transform="translate(604.68,860.40) scale(0.731,1)">r</text><text transform="translate(633.92,860.40) scale(0.696,1)">(</text><text transform="translate(646.62,860.40) scale(0.687,1)">g</text><text transform="translate(663.18,860.40) scale(0.705,1)">)</text><g transform="rotate(-90)"><text transform="translate(-675.85,93.70) scale(0.752,1)">0</text><text transform="translate(-658.52,93.70) scale(0.778,1)">.</text><text transform="translate(-646.79,93.70) scale(0.752,1)">0</text><text transform="translate(-632.26,93.70) scale(0.752,1)">0</text><text transform="translate(-489.91,93.70) scale(0.752,1)">0</text><text transform="translate(-472.59,93.70) scale(0.778,1)">.</text><text transform="translate(-460.85,93.70) scale(0.752,1)">0</text><text transform="translate(-446.52,93.70) scale(0.748,1)">5</text><text transform="translate(-303.98,93.70) scale(0.752,1)">0</text><text transform="translate(-286.65,93.70) scale(0.778,1)">.</text><text transform="translate(-274.43,93.70) scale(0.654,1)">1</text><text transform="translate(-260.39,93.70) scale(0.752,1)">0</text><text transform="translate(-118.04,93.70) scale(0.752,1)">0</text><text transform="translate(-100.72,93.70) scale(0.778,1)">.</text><text transform="translate(-88.50,93.70) scale(0.654,1)">1</text><text transform="translate(-74.65,93.70) scale(0.748,1)">5</text><text transform="translate(-558.30,23.80) scale(0.512,1)">E</text><text transform="translate(-543.45,23.80) scale(0.553,1)">n</text><text transform="translate(-529.38,23.80) scale(0.594,1)">d</text><text transform="translate(-515.02,23.80) scale(0.643,1)">o</text><text transform="translate(-502.68,23.80) scale(0.595,1)">m</text><text transform="translate(-486.07,23.80) scale(0.735,1)">e</text><text transform="translate(-469.47,23.80) scale(0.688,1)">t</text><text transform="translate(-455.82,23.80) scale(0.731,1)">r</text><text transform="translate(-440.19,23.80) scale(0.644,1)">i</text><text transform="translate(-427.84,23.80) scale(0.643,1)">o</text><text transform="translate(-413.08,23.80) scale(0.781,1)">s</text><text transform="translate(-396.60,23.80) scale(0.644,1)">i</text><text transform="translate(-384.02,23.80) scale(0.781,1)">s</text><text transform="translate(-355.19,23.80) scale(0.643,1)">o</text><text transform="translate(-340.49,23.80) scale(0.594,1)">d</text><text transform="translate(-325.96,23.80) scale(0.594,1)">d</text><text transform="translate(-295.99,23.80) scale(0.731,1)">r</text><text transform="translate(-282.53,23.80) scale(0.692,1)">a</text><text transform="translate(-266.05,23.80) scale(0.688,1)">t</text><text transform="translate(-251.30,23.80) scale(0.644,1)">i</text><text transform="translate(-238.95,23.80) scale(0.643,1)">o</text><text transform="translate(-208.63,23.80) scale(0.696,1)">(</text><text transform="translate(-196.68,23.80) scale(0.491,1)">%</text><text transform="translate(-179.37,23.80) scale(0.705,1)">)</text></g><text transform="translate(741.96,63.70) scale(0.507,1)">A</text><text transform="translate(756.60,63.70) scale(0.687,1)">g</text><text transform="translate(771.59,63.70) scale(0.735,1)">e</text><text transform="translate(761.41,111.80) scale(0.772,1)">2</text><text transform="translate(775.94,111.80) scale(0.752,1)">0</text><rect x="789.62" y="102.10" width="13.2" height="1.1" stroke="none"/><text transform="translate(805.18,111.80) scale(0.714,1)">3</text><text transform="translate(820.02,111.80) scale(0.654,1)">1</text><text transform="translate(761.59,146.40) scale(0.714,1)">3</text><text transform="translate(775.94,146.40) scale(0.772,1)">2</text><rect x="789.62" y="136.70" width="13.2" height="1.1" stroke="none"/><text transform="translate(805.17,146.40) scale(0.725,1)">4</text><text transform="translate(819.53,146.40) scale(0.772,1)">2</text><text transform="translate(761.58,181.40) scale(0.725,1)">4</text><text transform="translate(776.12,181.40) scale(0.714,1)">3</text><rect x="789.62" y="171.70" width="13.2" height="1.1" stroke="none"/><text transform="translate(804.81,181.40) scale(0.748,1)">5</text><text transform="translate(819.70,181.40) scale(0.725,1)">4</text></g>
<circle cx="704.9" cy="98.7" r="5.3" fill="#ff0000"/>
<circle cx="704.9" cy="133.3" r="6.5" fill="none" stroke="#00ff00" stroke-width="1.9"/>
<g fill="none" stroke="#0000ff" stroke-width="1.8" stroke-linejoin="miter"><path d="M704.90 159.05L713.00 173.08H696.80Z"/></g>
</svg>
</body></html>
